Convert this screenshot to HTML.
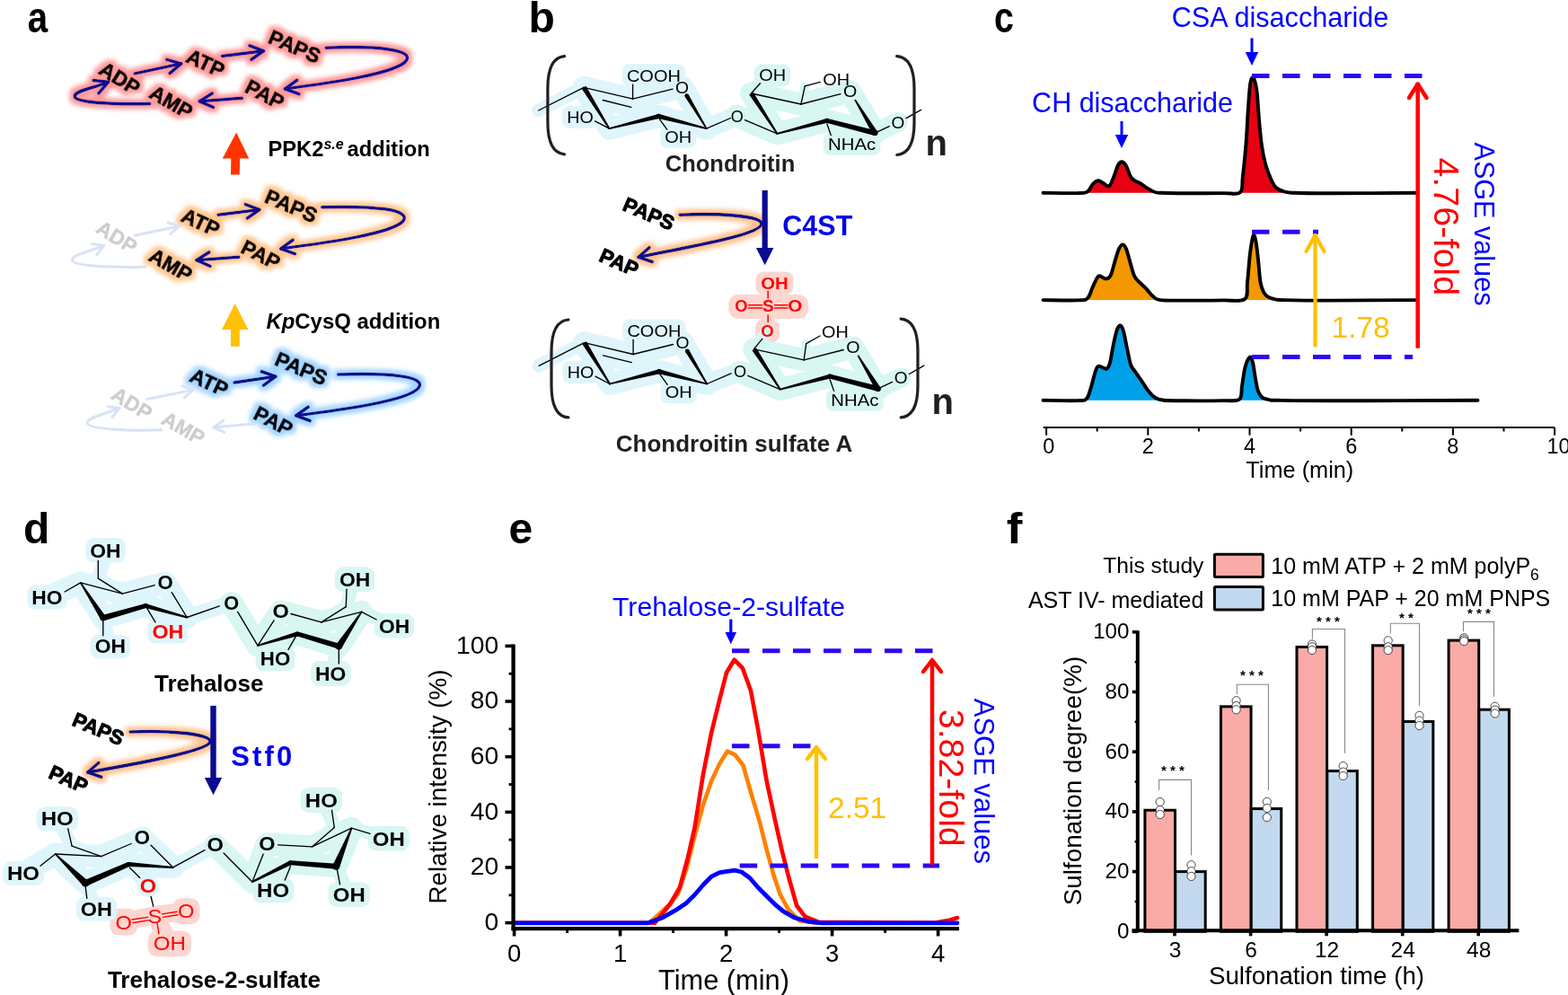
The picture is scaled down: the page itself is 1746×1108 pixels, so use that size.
<!DOCTYPE html>
<html><head><meta charset="utf-8"><title>Figure</title>
<style>html,body{margin:0;padding:0;background:#fff;}svg{display:block;}text{font-family:"Liberation Sans",Arial,sans-serif;}</style>
</head><body>
<svg width="1746" height="1108" viewBox="0 0 1746 1108">
<rect width="1746" height="1108" fill="#fff"/>
<defs><filter id="gR" x="-30%" y="-30%" width="160%" height="160%"><feMorphology in="SourceAlpha" operator="dilate" radius="3.6" result="d"/><feGaussianBlur in="d" stdDeviation="2.6" result="b"/><feFlood flood-color="#ff9999"/><feComposite in2="b" operator="in" result="g"/><feMerge><feMergeNode in="g"/><feMergeNode in="SourceGraphic"/></feMerge></filter><filter id="gO" x="-30%" y="-30%" width="160%" height="160%"><feMorphology in="SourceAlpha" operator="dilate" radius="3.6" result="d"/><feGaussianBlur in="d" stdDeviation="2.6" result="b"/><feFlood flood-color="#ffc58f"/><feComposite in2="b" operator="in" result="g"/><feMerge><feMergeNode in="g"/><feMergeNode in="SourceGraphic"/></feMerge></filter><filter id="gB" x="-30%" y="-30%" width="160%" height="160%"><feMorphology in="SourceAlpha" operator="dilate" radius="3.6" result="d"/><feGaussianBlur in="d" stdDeviation="2.6" result="b"/><feFlood flood-color="#a3d5ff"/><feComposite in2="b" operator="in" result="g"/><feMerge><feMergeNode in="g"/><feMergeNode in="SourceGraphic"/></feMerge></filter><filter id="gO2" x="-30%" y="-30%" width="160%" height="160%"><feMorphology in="SourceAlpha" operator="dilate" radius="4.2" result="d"/><feGaussianBlur in="d" stdDeviation="2.6" result="b"/><feFlood flood-color="#ffc28c"/><feComposite in2="b" operator="in" result="g"/><feMerge><feMergeNode in="g"/><feMergeNode in="SourceGraphic"/></feMerge></filter></defs>
<text x="30.70" y="36.20" font-size="48" fill="#000" font-weight="bold" textLength="22.4" lengthAdjust="spacingAndGlyphs">a</text>
<g filter="url(#gR)">
<path d="M150.2,81.9 L201.7,70.9" stroke="#11118f" stroke-width="3.5" fill="none" stroke-linejoin="round" stroke-linecap="round"/>
<polyline points="189.07,81.52 201.70,70.90 185.83,66.37" stroke="#11118f" stroke-width="3.6" fill="none" stroke-linejoin="round" stroke-linecap="round"/>
<path d="M247.5,62.4 L293.4,56.7" stroke="#11118f" stroke-width="3.5" fill="none" stroke-linejoin="round" stroke-linecap="round"/>
<polyline points="279.90,66.18 293.40,56.70 277.99,50.81" stroke="#11118f" stroke-width="3.6" fill="none" stroke-linejoin="round" stroke-linecap="round"/>
<path d="M363.2,53.2 C420,51 462,55 452,68 C440,82 370,92 317.4,99" stroke="#11118f" stroke-width="3.5" fill="none" stroke-linejoin="round" stroke-linecap="round"/>
<polyline points="330.73,89.28 317.40,99.00 332.91,104.62" stroke="#11118f" stroke-width="3.6" fill="none" stroke-linejoin="round" stroke-linecap="round"/>
<path d="M269.3,109.3 L222.3,112.8" stroke="#11118f" stroke-width="3.5" fill="none" stroke-linejoin="round" stroke-linecap="round"/>
<polyline points="236.25,103.99 222.30,112.80 237.40,119.44" stroke="#11118f" stroke-width="3.6" fill="none" stroke-linejoin="round" stroke-linecap="round"/>
<path d="M166.7,115.6 C130,116.5 84,114.5 83.2,107.5 C82.8,101.5 99,99.5 120.5,91.3" stroke="#11118f" stroke-width="3.5" fill="none" stroke-linejoin="round" stroke-linecap="round"/>
<polyline points="109.85,103.90 120.50,91.30 104.10,89.52" stroke="#11118f" stroke-width="3.6" fill="none" stroke-linejoin="round" stroke-linecap="round"/>
<text transform="translate(133.50,87.00) rotate(32)" x="0" y="8.16" font-size="22.8" font-weight="bold" text-anchor="middle" fill="#000" stroke="#000" stroke-width="1.0">ADP</text>
<text transform="translate(229.00,70.00) rotate(25)" x="0" y="8.16" font-size="22.8" font-weight="bold" text-anchor="middle" fill="#000" stroke="#000" stroke-width="1.0">ATP</text>
<text transform="translate(328.20,51.50) rotate(23)" x="0" y="8.16" font-size="22.8" font-weight="bold" text-anchor="middle" fill="#000" stroke="#000" stroke-width="1.0">PAPS</text>
<text transform="translate(295.00,104.80) rotate(27)" x="0" y="8.16" font-size="22.8" font-weight="bold" text-anchor="middle" fill="#000" stroke="#000" stroke-width="1.0">PAP</text>
<text transform="translate(190.80,113.40) rotate(30)" x="0" y="8.16" font-size="22.8" font-weight="bold" text-anchor="middle" fill="#000" stroke="#000" stroke-width="1.0">AMP</text>
</g>
<g filter="url(#gO)">
<path d="M243,239.3 L288.8,233.5" stroke="#11118f" stroke-width="3.5" fill="none" stroke-linejoin="round" stroke-linecap="round"/>
<polyline points="275.32,243.02 288.80,233.50 273.37,227.65" stroke="#11118f" stroke-width="3.6" fill="none" stroke-linejoin="round" stroke-linecap="round"/>
<path d="M358.7,230.8 C416,229 458,233 449,246 C437,260 366,270 312.8,277" stroke="#11118f" stroke-width="3.5" fill="none" stroke-linejoin="round" stroke-linecap="round"/>
<polyline points="326.10,267.24 312.80,277.00 328.33,282.57" stroke="#11118f" stroke-width="3.6" fill="none" stroke-linejoin="round" stroke-linecap="round"/>
<path d="M265.9,286.2 L218.9,289.7" stroke="#11118f" stroke-width="3.5" fill="none" stroke-linejoin="round" stroke-linecap="round"/>
<polyline points="232.85,280.89 218.90,289.70 234.00,296.34" stroke="#11118f" stroke-width="3.6" fill="none" stroke-linejoin="round" stroke-linecap="round"/>
<text transform="translate(223.50,247.30) rotate(25)" x="0" y="8.16" font-size="22.8" font-weight="bold" text-anchor="middle" fill="#000" stroke="#000" stroke-width="1.0">ATP</text>
<text transform="translate(324.30,229.00) rotate(23)" x="0" y="8.16" font-size="22.8" font-weight="bold" text-anchor="middle" fill="#000" stroke="#000" stroke-width="1.0">PAPS</text>
<text transform="translate(290.50,283.40) rotate(27)" x="0" y="8.16" font-size="22.8" font-weight="bold" text-anchor="middle" fill="#000" stroke="#000" stroke-width="1.0">PAP</text>
<text transform="translate(190.30,294.80) rotate(30)" x="0" y="8.16" font-size="22.8" font-weight="bold" text-anchor="middle" fill="#000" stroke="#000" stroke-width="1.0">AMP</text>
</g>
<path d="M150.2,262.2 L199.4,251.9" stroke="#d9e2f6" stroke-width="3.0" fill="none" stroke-linejoin="round" stroke-linecap="round"/>
<polyline points="189.71,260.57 199.40,251.90 187.05,247.84" stroke="#d9e2f6" stroke-width="3.0" fill="none" stroke-linejoin="round" stroke-linecap="round"/>
<path d="M161.6,297.2 C125,298 80.5,296.5 80.3,289.5 C80.2,283.5 96,281.5 115.5,273.5" stroke="#d9e2f6" stroke-width="3.0" fill="none" stroke-linejoin="round" stroke-linecap="round"/>
<polyline points="107.55,283.79 115.50,273.50 102.62,271.76" stroke="#d9e2f6" stroke-width="3.0" fill="none" stroke-linejoin="round" stroke-linecap="round"/>
<text transform="translate(130.20,263.90) rotate(32)" x="0" y="8.16" font-size="22.8" font-weight="bold" text-anchor="middle" fill="#cdcdcd" stroke="#cdcdcd" stroke-width="0.4">ADP</text>
<g filter="url(#gB)">
<path d="M261,426.1 L306.8,419.3" stroke="#11118f" stroke-width="3.5" fill="none" stroke-linejoin="round" stroke-linecap="round"/>
<polyline points="293.53,429.10 306.80,419.30 291.25,413.78" stroke="#11118f" stroke-width="3.6" fill="none" stroke-linejoin="round" stroke-linecap="round"/>
<path d="M376.7,417 C433,415 476,419 466,432 C455,446 384,456 329.7,462.8" stroke="#11118f" stroke-width="3.5" fill="none" stroke-linejoin="round" stroke-linecap="round"/>
<polyline points="343.12,453.20 329.70,462.80 345.16,468.56" stroke="#11118f" stroke-width="3.6" fill="none" stroke-linejoin="round" stroke-linecap="round"/>
<text transform="translate(233.00,425.60) rotate(25)" x="0" y="8.16" font-size="22.8" font-weight="bold" text-anchor="middle" fill="#000" stroke="#000" stroke-width="1.0">ATP</text>
<text transform="translate(335.50,410.10) rotate(23)" x="0" y="8.16" font-size="22.8" font-weight="bold" text-anchor="middle" fill="#000" stroke="#000" stroke-width="1.0">PAPS</text>
<text transform="translate(304.50,468.50) rotate(27)" x="0" y="8.16" font-size="22.8" font-weight="bold" text-anchor="middle" fill="#000" stroke="#000" stroke-width="1.0">PAP</text>
</g>
<path d="M163.6,444.5 L215.2,434.1" stroke="#d9e2f6" stroke-width="3.0" fill="none" stroke-linejoin="round" stroke-linecap="round"/>
<polyline points="205.45,442.70 215.20,434.10 202.88,429.95" stroke="#d9e2f6" stroke-width="3.0" fill="none" stroke-linejoin="round" stroke-linecap="round"/>
<path d="M282.7,472 L238,475.8" stroke="#d9e2f6" stroke-width="3.0" fill="none" stroke-linejoin="round" stroke-linecap="round"/>
<polyline points="248.67,468.37 238.00,475.80 249.77,481.32" stroke="#d9e2f6" stroke-width="3.0" fill="none" stroke-linejoin="round" stroke-linecap="round"/>
<path d="M179.7,478.8 C143,480 97.5,478 97.2,471 C97,465 113,462.5 133,454.5" stroke="#d9e2f6" stroke-width="3.0" fill="none" stroke-linejoin="round" stroke-linecap="round"/>
<polyline points="124.96,464.72 133.00,454.50 120.13,452.65" stroke="#d9e2f6" stroke-width="3.0" fill="none" stroke-linejoin="round" stroke-linecap="round"/>
<text transform="translate(147.00,449.00) rotate(32)" x="0" y="8.16" font-size="22.8" font-weight="bold" text-anchor="middle" fill="#cdcdcd" stroke="#cdcdcd" stroke-width="0.4">ADP</text>
<text transform="translate(204.30,476.50) rotate(30)" x="0" y="8.16" font-size="22.8" font-weight="bold" text-anchor="middle" fill="#cdcdcd" stroke="#cdcdcd" stroke-width="0.4">AMP</text>
<polygon points="263.20,147.40 277.20,176.40 267.10,176.40 266.80,194.50 257.00,194.50 257.30,176.40 247.80,176.40" fill="#ff3300"/>
<polygon points="261.70,338.00 276.40,367.10 266.80,367.10 266.80,385.70 257.00,385.70 257.00,367.10 247.00,367.10" fill="#ffc000"/>
<text x="298.5" y="173.8" font-size="23.7" font-weight="bold">PPK2<tspan font-size="16" font-style="italic" dy="-7.5">s.e</tspan><tspan x="386.6" dy="7.5" font-size="23.7">addition</tspan></text>
<text x="296.5" y="365.9" font-size="23.9" font-weight="bold"><tspan font-style="italic">Kp</tspan>CysQ addition</text>
<text x="588.50" y="35.50" font-size="48" fill="#000" font-weight="bold">b</text>
<polyline points="650.10,97.30 704.60,110.20 759.50,96.90 786.70,143.20 733.50,129.40 678.50,143.20 650.10,97.30" stroke="#dff5fc" stroke-width="25" fill="none" stroke-linejoin="round" stroke-linecap="round"/>
<polyline points="599.60,123.00 650.10,97.30" stroke="#dff5fc" stroke-width="15" fill="none" stroke-linejoin="round" stroke-linecap="round"/>
<polyline points="671.20,111.50 702.80,119.30" stroke="#dff5fc" stroke-width="22" fill="none" stroke-linejoin="round" stroke-linecap="round"/>
<polyline points="786.70,143.20 820.70,129.20" stroke="#dff5fc" stroke-width="22" fill="none" stroke-linejoin="round" stroke-linecap="round"/>
<rect x="692.70" y="71.10" width="70.40" height="25.50" fill="#dff5fc" stroke="none" stroke-width="0" rx="8"/>
<rect x="625.90" y="117.70" width="40.20" height="25.10" fill="#dff5fc" stroke="none" stroke-width="0" rx="8"/>
<rect x="735.00" y="140.40" width="40.40" height="24.40" fill="#dff5fc" stroke="none" stroke-width="0" rx="8"/>
<polyline points="820.70,129.20 865.40,148.80 836.50,104.00 891.90,116.00 946.70,102.10 974.40,148.10 920.90,134.30 865.40,148.80" stroke="#d8f6f2" stroke-width="25" fill="none" stroke-linejoin="round" stroke-linecap="round"/>
<polyline points="974.40,148.10 999.90,135.80" stroke="#d8f6f2" stroke-width="22" fill="none" stroke-linejoin="round" stroke-linecap="round"/>
<polyline points="891.90,116.00 920.90,134.30" stroke="#d8f6f2" stroke-width="20" fill="none" stroke-linejoin="round" stroke-linecap="round"/>
<polyline points="704.60,110.20 733.50,129.40" stroke="#dff5fc" stroke-width="16" fill="none" stroke-linejoin="round" stroke-linecap="round"/>
<circle cx="820.70" cy="129.20" r="10.5" fill="#d8f6f2"/>
<circle cx="999.90" cy="135.80" r="10.5" fill="#d8f6f2"/>
<rect x="916.80" y="148.40" width="63.60" height="24.60" fill="#d8f6f2" stroke="none" stroke-width="0" rx="8"/>
<rect x="839.90" y="71.60" width="40.40" height="24.60" fill="#d8f6f2" stroke="none" stroke-width="0" rx="8"/>
<polyline points="836.50,104.00 846.50,92.70" stroke="#d8f6f2" stroke-width="14" fill="none" stroke-linejoin="round" stroke-linecap="round"/>
<polyline points="891.90,116.00 896.30,95.80" stroke="#d8f6f2" stroke-width="10" fill="none" stroke-linejoin="round" stroke-linecap="round"/>
<line x1="599.60" y1="123.00" x2="650.10" y2="97.30" stroke="#000" stroke-width="1.35" stroke-linecap="round"/>
<line x1="650.10" y1="97.30" x2="704.60" y2="110.20" stroke="#000" stroke-width="1.35" stroke-linecap="round"/>
<line x1="704.60" y1="110.20" x2="749.10" y2="99.20" stroke="#000" stroke-width="1.35" stroke-linecap="round"/>
<line x1="704.60" y1="110.20" x2="704.60" y2="94.10" stroke="#000" stroke-width="1.35" stroke-linecap="round"/>
<line x1="671.20" y1="111.50" x2="702.80" y2="119.30" stroke="#000" stroke-width="1.35" stroke-linecap="round"/>
<polygon points="762.73,107.68 786.01,143.61 787.39,142.79 766.67,105.32" fill="#000"/>
<circle cx="764.70" cy="106.50" r="2.30" fill="#000"/>
<circle cx="786.70" cy="143.20" r="0.80" fill="#000"/>
<polygon points="786.93,142.33 734.15,126.88 732.85,131.92 786.47,144.07" fill="#000"/>
<circle cx="786.70" cy="143.20" r="0.90" fill="#000"/>
<circle cx="733.50" cy="129.40" r="2.60" fill="#000"/>
<polygon points="732.87,126.88 678.28,142.33 678.72,144.07 734.13,131.92" fill="#000"/>
<circle cx="733.50" cy="129.40" r="2.60" fill="#000"/>
<circle cx="678.50" cy="143.20" r="0.90" fill="#000"/>
<polygon points="647.72,98.77 677.73,143.67 679.27,142.73 652.48,95.83" fill="#000"/>
<circle cx="678.50" cy="143.20" r="0.90" fill="#000"/>
<line x1="678.50" y1="143.20" x2="662.50" y2="134.90" stroke="#000" stroke-width="1.35" stroke-linecap="round"/>
<line x1="734.40" y1="132.60" x2="742.70" y2="144.10" stroke="#000" stroke-width="1.35" stroke-linecap="round"/>
<line x1="786.70" y1="143.20" x2="813.50" y2="131.50" stroke="#000" stroke-width="1.35" stroke-linecap="round"/>
<line x1="829.50" y1="133.60" x2="865.40" y2="148.80" stroke="#000" stroke-width="1.35" stroke-linecap="round"/>
<line x1="836.50" y1="104.00" x2="891.90" y2="116.00" stroke="#000" stroke-width="1.35" stroke-linecap="round"/>
<line x1="891.90" y1="116.00" x2="896.30" y2="95.80" stroke="#000" stroke-width="1.35" stroke-linecap="round"/>
<line x1="896.30" y1="95.80" x2="913.30" y2="91.40" stroke="#000" stroke-width="1.35" stroke-linecap="round"/>
<line x1="891.90" y1="116.00" x2="936.00" y2="104.70" stroke="#000" stroke-width="1.35" stroke-linecap="round"/>
<polygon points="951.63,112.06 971.83,149.65 976.97,146.55 953.17,111.14" fill="#000"/>
<circle cx="952.40" cy="111.60" r="0.90" fill="#000"/>
<circle cx="974.40" cy="148.10" r="3.00" fill="#000"/>
<polygon points="975.15,145.20 921.52,131.88 920.28,136.72 973.65,151.00" fill="#000"/>
<circle cx="974.40" cy="148.10" r="3.00" fill="#000"/>
<circle cx="920.90" cy="134.30" r="2.50" fill="#000"/>
<polygon points="920.27,131.88 865.17,147.93 865.63,149.67 921.53,136.72" fill="#000"/>
<circle cx="920.90" cy="134.30" r="2.50" fill="#000"/>
<circle cx="865.40" cy="148.80" r="0.90" fill="#000"/>
<polygon points="834.23,105.46 864.64,149.29 866.16,148.31 838.77,102.54" fill="#000"/>
<circle cx="865.40" cy="148.80" r="0.90" fill="#000"/>
<line x1="920.90" y1="138.00" x2="925.30" y2="150.60" stroke="#000" stroke-width="1.35" stroke-linecap="round"/>
<line x1="974.40" y1="148.10" x2="990.20" y2="140.60" stroke="#000" stroke-width="1.35" stroke-linecap="round"/>
<line x1="1009.10" y1="131.70" x2="1025.50" y2="122.30" stroke="#000" stroke-width="1.35" stroke-linecap="round"/>
<line x1="836.50" y1="104.00" x2="846.50" y2="92.70" stroke="#000" stroke-width="1.35" stroke-linecap="round"/>
<text x="727.90" y="90.60" font-size="18.5" fill="#000" text-anchor="middle" textLength="59.88" lengthAdjust="spacingAndGlyphs">COOH</text>
<text x="759.55" y="103.70" font-size="18.5" fill="#000" text-anchor="middle" textLength="14.98" lengthAdjust="spacingAndGlyphs">O</text>
<text x="646.00" y="136.80" font-size="18.5" fill="#000" text-anchor="middle" textLength="29.68" lengthAdjust="spacingAndGlyphs">HO</text>
<text x="755.20" y="158.80" font-size="18.5" fill="#000" text-anchor="middle" textLength="29.88" lengthAdjust="spacingAndGlyphs">OH</text>
<text x="820.70" y="135.50" font-size="18.5" fill="#000" text-anchor="middle" textLength="14.08" lengthAdjust="spacingAndGlyphs">O</text>
<text x="860.10" y="90.20" font-size="18.5" fill="#000" text-anchor="middle" textLength="29.88" lengthAdjust="spacingAndGlyphs">OH</text>
<text x="931.30" y="94.60" font-size="18.5" fill="#000" text-anchor="middle" textLength="29.88" lengthAdjust="spacingAndGlyphs">OH</text>
<text x="946.70" y="108.40" font-size="18.5" fill="#000" text-anchor="middle" textLength="15.28" lengthAdjust="spacingAndGlyphs">O</text>
<text x="948.60" y="167.00" font-size="18.5" fill="#000" text-anchor="middle" textLength="53.08" lengthAdjust="spacingAndGlyphs">NHAc</text>
<text x="999.95" y="142.50" font-size="18.5" fill="#000" text-anchor="middle" textLength="14.78" lengthAdjust="spacingAndGlyphs">O</text>
<path d="M628.5,62.6 C615.9,63.6 609.9,76.6 609.9,98.6 L609.9,135.8 C609.9,157.8 615.9,170.8 628.5,171.8" stroke="#231f20" stroke-width="3.2" fill="none" stroke-linejoin="round" stroke-linecap="round"/>
<path d="M998.7,62.7 C1012.0,63.7 1018.0,76.7 1018.0,98.7 L1018.0,136.5 C1018.0,158.5 1012.0,171.5 998.7,172.5" stroke="#231f20" stroke-width="3.2" fill="none" stroke-linejoin="round" stroke-linecap="round"/>
<text x="1030.50" y="172.50" font-size="40" fill="#231f20" font-weight="bold">n</text>
<text x="813.00" y="190.60" font-size="25.5" fill="#231f20" font-weight="bold" text-anchor="middle">Chondroitin</text>
<rect x="841.50" y="302.40" width="42.10" height="25.80" fill="#fcd6cf" stroke="none" stroke-width="0" rx="9"/>
<rect x="811.40" y="327.90" width="88.70" height="27.00" fill="#fcd6cf" stroke="none" stroke-width="0" rx="11"/>
<rect x="841.00" y="355.90" width="26.90" height="26.00" fill="#fcd6cf" stroke="none" stroke-width="0" rx="9"/>
<polyline points="855.20,320.00 855.20,368.00" stroke="#fcd6cf" stroke-width="16" fill="none" stroke-linejoin="round" stroke-linecap="round"/>
<polyline points="650.60,381.60 705.10,394.50 760.00,381.20 787.20,427.50 734.00,413.70 679.00,427.50 650.60,381.60" stroke="#dff5fc" stroke-width="25" fill="none" stroke-linejoin="round" stroke-linecap="round"/>
<polyline points="600.10,407.30 650.60,381.60" stroke="#dff5fc" stroke-width="15" fill="none" stroke-linejoin="round" stroke-linecap="round"/>
<polyline points="671.70,395.80 703.30,403.60" stroke="#dff5fc" stroke-width="22" fill="none" stroke-linejoin="round" stroke-linecap="round"/>
<polyline points="787.20,427.50 824.00,414.00" stroke="#dff5fc" stroke-width="22" fill="none" stroke-linejoin="round" stroke-linecap="round"/>
<rect x="693.20" y="355.40" width="70.40" height="25.50" fill="#dff5fc" stroke="none" stroke-width="0" rx="8"/>
<rect x="626.40" y="402.00" width="40.20" height="25.10" fill="#dff5fc" stroke="none" stroke-width="0" rx="8"/>
<rect x="735.50" y="424.70" width="40.40" height="24.40" fill="#dff5fc" stroke="none" stroke-width="0" rx="8"/>
<polyline points="824.00,414.00 868.70,433.60 839.80,388.80 895.20,400.80 950.00,386.90 977.70,432.90 924.20,419.10 868.70,433.60" stroke="#d8f6f2" stroke-width="25" fill="none" stroke-linejoin="round" stroke-linecap="round"/>
<polyline points="977.70,432.90 1003.20,420.60" stroke="#d8f6f2" stroke-width="22" fill="none" stroke-linejoin="round" stroke-linecap="round"/>
<polyline points="895.20,400.80 924.20,419.10" stroke="#d8f6f2" stroke-width="20" fill="none" stroke-linejoin="round" stroke-linecap="round"/>
<polyline points="705.10,394.50 734.00,413.70" stroke="#dff5fc" stroke-width="16" fill="none" stroke-linejoin="round" stroke-linecap="round"/>
<circle cx="824.00" cy="414.00" r="10.5" fill="#d8f6f2"/>
<circle cx="1003.20" cy="420.60" r="10.5" fill="#d8f6f2"/>
<rect x="920.10" y="433.20" width="63.60" height="24.60" fill="#d8f6f2" stroke="none" stroke-width="0" rx="8"/>
<polyline points="839.80,388.80 854.50,368.90" stroke="#d8f6f2" stroke-width="14" fill="none" stroke-linejoin="round" stroke-linecap="round"/>
<polyline points="895.20,400.80 897.70,382.60" stroke="#d8f6f2" stroke-width="10" fill="none" stroke-linejoin="round" stroke-linecap="round"/>
<line x1="600.10" y1="407.30" x2="650.60" y2="381.60" stroke="#000" stroke-width="1.35" stroke-linecap="round"/>
<line x1="650.60" y1="381.60" x2="705.10" y2="394.50" stroke="#000" stroke-width="1.35" stroke-linecap="round"/>
<line x1="705.10" y1="394.50" x2="749.60" y2="383.50" stroke="#000" stroke-width="1.35" stroke-linecap="round"/>
<line x1="705.10" y1="394.50" x2="705.10" y2="378.40" stroke="#000" stroke-width="1.35" stroke-linecap="round"/>
<line x1="671.70" y1="395.80" x2="703.30" y2="403.60" stroke="#000" stroke-width="1.35" stroke-linecap="round"/>
<polygon points="763.23,391.98 786.51,427.91 787.89,427.09 767.17,389.62" fill="#000"/>
<circle cx="765.20" cy="390.80" r="2.30" fill="#000"/>
<circle cx="787.20" cy="427.50" r="0.80" fill="#000"/>
<polygon points="787.43,426.63 734.65,411.18 733.35,416.22 786.97,428.37" fill="#000"/>
<circle cx="787.20" cy="427.50" r="0.90" fill="#000"/>
<circle cx="734.00" cy="413.70" r="2.60" fill="#000"/>
<polygon points="733.37,411.18 678.78,426.63 679.22,428.37 734.63,416.22" fill="#000"/>
<circle cx="734.00" cy="413.70" r="2.60" fill="#000"/>
<circle cx="679.00" cy="427.50" r="0.90" fill="#000"/>
<polygon points="648.22,383.07 678.23,427.97 679.77,427.03 652.98,380.13" fill="#000"/>
<circle cx="679.00" cy="427.50" r="0.90" fill="#000"/>
<line x1="679.00" y1="427.50" x2="663.00" y2="419.20" stroke="#000" stroke-width="1.35" stroke-linecap="round"/>
<line x1="734.90" y1="416.90" x2="743.20" y2="428.40" stroke="#000" stroke-width="1.35" stroke-linecap="round"/>
<line x1="787.20" y1="427.50" x2="814.00" y2="415.80" stroke="#000" stroke-width="1.35" stroke-linecap="round"/>
<line x1="832.80" y1="418.40" x2="868.70" y2="433.60" stroke="#000" stroke-width="1.35" stroke-linecap="round"/>
<line x1="839.80" y1="388.80" x2="895.20" y2="400.80" stroke="#000" stroke-width="1.35" stroke-linecap="round"/>
<line x1="895.20" y1="400.80" x2="897.70" y2="382.60" stroke="#000" stroke-width="1.35" stroke-linecap="round"/>
<line x1="897.70" y1="382.60" x2="913.10" y2="374.00" stroke="#000" stroke-width="1.35" stroke-linecap="round"/>
<line x1="895.20" y1="400.80" x2="939.30" y2="389.50" stroke="#000" stroke-width="1.35" stroke-linecap="round"/>
<polygon points="954.93,396.86 975.13,434.45 980.27,431.35 956.47,395.94" fill="#000"/>
<circle cx="955.70" cy="396.40" r="0.90" fill="#000"/>
<circle cx="977.70" cy="432.90" r="3.00" fill="#000"/>
<polygon points="978.45,430.00 924.82,416.68 923.58,421.52 976.95,435.80" fill="#000"/>
<circle cx="977.70" cy="432.90" r="3.00" fill="#000"/>
<circle cx="924.20" cy="419.10" r="2.50" fill="#000"/>
<polygon points="923.57,416.68 868.47,432.73 868.93,434.47 924.83,421.52" fill="#000"/>
<circle cx="924.20" cy="419.10" r="2.50" fill="#000"/>
<circle cx="868.70" cy="433.60" r="0.90" fill="#000"/>
<polygon points="837.53,390.26 867.94,434.09 869.46,433.11 842.07,387.34" fill="#000"/>
<circle cx="868.70" cy="433.60" r="0.90" fill="#000"/>
<line x1="924.20" y1="422.80" x2="928.60" y2="435.40" stroke="#000" stroke-width="1.35" stroke-linecap="round"/>
<line x1="977.70" y1="432.90" x2="993.50" y2="425.40" stroke="#000" stroke-width="1.35" stroke-linecap="round"/>
<line x1="1012.40" y1="416.50" x2="1028.80" y2="407.10" stroke="#000" stroke-width="1.35" stroke-linecap="round"/>
<text x="728.40" y="374.90" font-size="18.5" fill="#000" text-anchor="middle" textLength="59.88" lengthAdjust="spacingAndGlyphs">COOH</text>
<text x="760.05" y="388.00" font-size="18.5" fill="#000" text-anchor="middle" textLength="14.98" lengthAdjust="spacingAndGlyphs">O</text>
<text x="646.50" y="421.10" font-size="18.5" fill="#000" text-anchor="middle" textLength="29.68" lengthAdjust="spacingAndGlyphs">HO</text>
<text x="755.70" y="443.10" font-size="18.5" fill="#000" text-anchor="middle" textLength="29.88" lengthAdjust="spacingAndGlyphs">OH</text>
<text x="824.00" y="420.30" font-size="18.5" fill="#000" text-anchor="middle" textLength="14.08" lengthAdjust="spacingAndGlyphs">O</text>
<text x="929.85" y="375.70" font-size="18.5" fill="#000" text-anchor="middle" textLength="29.78" lengthAdjust="spacingAndGlyphs">OH</text>
<text x="950.00" y="393.20" font-size="18.5" fill="#000" text-anchor="middle" textLength="15.28" lengthAdjust="spacingAndGlyphs">O</text>
<text x="951.90" y="451.80" font-size="18.5" fill="#000" text-anchor="middle" textLength="53.08" lengthAdjust="spacingAndGlyphs">NHAc</text>
<text x="1003.25" y="427.30" font-size="18.5" fill="#000" text-anchor="middle" textLength="14.78" lengthAdjust="spacingAndGlyphs">O</text>
<line x1="839.40" y1="388.60" x2="848.90" y2="377.40" stroke="#000" stroke-width="1.35" stroke-linecap="round"/>
<text x="862.55" y="321.70" font-size="18.5" fill="#ff0000" text-anchor="middle" font-weight="bold" textLength="30.58" lengthAdjust="spacingAndGlyphs">OH</text>
<text x="855.30" y="347.40" font-size="18.5" fill="#ff0000" text-anchor="middle" font-weight="bold" textLength="12.68" lengthAdjust="spacingAndGlyphs">S</text>
<text x="825.30" y="347.40" font-size="18.5" fill="#ff0000" text-anchor="middle" font-weight="bold" textLength="14.28" lengthAdjust="spacingAndGlyphs">O</text>
<text x="885.30" y="347.40" font-size="18.5" fill="#ff0000" text-anchor="middle" font-weight="bold" textLength="16.08" lengthAdjust="spacingAndGlyphs">O</text>
<text x="854.45" y="374.90" font-size="18.5" fill="#ff0000" text-anchor="middle" font-weight="bold" textLength="14.38" lengthAdjust="spacingAndGlyphs">O</text>
<line x1="855.20" y1="324.30" x2="855.20" y2="332.00" stroke="#ff0000" stroke-width="1.5" stroke-linecap="round"/>
<line x1="855.20" y1="350.90" x2="855.20" y2="358.60" stroke="#ff0000" stroke-width="1.5" stroke-linecap="round"/>
<line x1="833.40" y1="339.70" x2="848.90" y2="339.70" stroke="#ff0000" stroke-width="1.5" stroke-linecap="round"/>
<line x1="862.50" y1="339.70" x2="877.00" y2="339.70" stroke="#ff0000" stroke-width="1.5" stroke-linecap="round"/>
<line x1="833.40" y1="343.10" x2="848.90" y2="343.10" stroke="#ff0000" stroke-width="1.5" stroke-linecap="round"/>
<line x1="862.50" y1="343.10" x2="877.00" y2="343.10" stroke="#ff0000" stroke-width="1.5" stroke-linecap="round"/>
<path d="M632.9,356 C620,357 614,370 614,392 L614,428.9 C614,450.9 620,463.9 632.9,464.9" stroke="#231f20" stroke-width="3.2" fill="none" stroke-linejoin="round" stroke-linecap="round"/>
<path d="M1003.2,355.1 C1016,356.1 1022,369.1 1022,391.1 L1022,428.9 C1022,450.9 1016,463.9 1003.2,464.9" stroke="#231f20" stroke-width="3.2" fill="none" stroke-linejoin="round" stroke-linecap="round"/>
<text x="1037.50" y="460.60" font-size="40" fill="#231f20" font-weight="bold">n</text>
<text x="817.50" y="503.20" font-size="26" fill="#231f20" font-weight="bold" text-anchor="middle">Chondroitin sulfate A</text>
<text x="910.30" y="261.60" font-size="32" fill="#0000ee" font-weight="bold" text-anchor="middle" textLength="78" lengthAdjust="spacingAndGlyphs">C4ST</text>
<g filter="url(#gO2)">
<path d="M757.2,239.2 C800,237.5 848,240 848,249 C848,262 760,276 711,286.4" stroke="#0f0f8a" stroke-width="3.6" fill="none" stroke-linejoin="round" stroke-linecap="round"/>
<polyline points="722.95,275.76 711.00,286.40 726.19,291.42" stroke="#0f0f8a" stroke-width="3.6" fill="none" stroke-linejoin="round" stroke-linecap="round"/>
</g>
<rect x="848.6" y="211.9" width="6.2" height="66" fill="#0a0a94"/>
<polygon points="842.00,275.90 861.40,275.90 851.70,295.30" fill="#0a0a94"/>
<text transform="translate(722.50,237.80) rotate(23)" x="0" y="8.05" font-size="22.5" font-weight="bold" text-anchor="middle" fill="#000" stroke="#000" stroke-width="1.0">PAPS</text>
<text transform="translate(689.50,292.00) rotate(24)" x="0" y="8.05" font-size="22.5" font-weight="bold" text-anchor="middle" fill="#000" stroke="#000" stroke-width="1.0">PAP</text>
<text x="1107.10" y="35.80" font-size="48" fill="#000" font-weight="bold" textLength="21.9" lengthAdjust="spacingAndGlyphs">c</text>
<path d="M1208.00,214.80 C1208.50,214.55 1209.50,214.97 1211.00,213.30 C1212.50,211.63 1215.00,206.82 1217.00,204.80 C1219.00,202.78 1221.00,201.28 1223.00,201.20 C1225.00,201.12 1226.95,203.33 1229.00,204.30 C1231.05,205.27 1233.30,208.58 1235.30,207.00 C1237.30,205.42 1239.38,198.67 1241.00,194.80 C1242.62,190.93 1243.60,186.22 1245.00,183.80 C1246.40,181.38 1247.90,180.13 1249.40,180.30 C1250.90,180.47 1252.40,182.05 1254.00,184.80 C1255.60,187.55 1257.50,194.13 1259.00,196.80 C1260.50,199.47 1261.17,199.55 1263.00,200.80 C1264.83,202.05 1267.50,202.80 1270.00,204.30 C1272.50,205.80 1275.33,208.18 1278.00,209.80 C1280.67,211.42 1283.33,213.17 1286.00,214.00 C1288.67,214.83 1292.33,214.67 1294.00,214.80 C1295.67,214.93 1295.67,214.80 1296.00,214.80 Z" fill="#e60012"/>
<path d="M1377.90,214.80 C1378.40,214.72 1379.92,217.23 1380.90,214.30 C1381.88,211.37 1382.72,206.08 1383.80,197.20 C1384.88,188.32 1386.43,173.03 1387.40,161.00 C1388.37,148.97 1388.87,135.82 1389.60,125.00 C1390.33,114.18 1391.07,102.47 1391.80,96.10 C1392.53,89.73 1393.17,88.00 1394.00,86.80 C1394.83,85.60 1395.85,86.15 1396.80,88.90 C1397.75,91.65 1398.85,96.08 1399.70,103.30 C1400.55,110.52 1401.05,122.58 1401.90,132.20 C1402.75,141.82 1403.60,152.58 1404.80,161.00 C1406.00,169.42 1407.42,176.43 1409.10,182.70 C1410.78,188.97 1412.98,194.27 1414.90,198.60 C1416.82,202.93 1418.20,206.28 1420.60,208.70 C1423.00,211.12 1425.73,212.08 1429.30,213.10 C1432.87,214.12 1439.55,214.52 1442.00,214.80 C1444.45,215.08 1443.67,214.80 1444.00,214.80 Z" fill="#e60012"/>
<path d="M1161.50,214.80 C1167.92,214.85 1191.75,215.35 1200.00,215.10 C1208.25,214.85 1208.17,215.02 1211.00,213.30 C1213.83,211.58 1215.00,206.82 1217.00,204.80 C1219.00,202.78 1221.00,201.28 1223.00,201.20 C1225.00,201.12 1226.95,203.33 1229.00,204.30 C1231.05,205.27 1233.30,208.58 1235.30,207.00 C1237.30,205.42 1239.38,198.67 1241.00,194.80 C1242.62,190.93 1243.60,186.22 1245.00,183.80 C1246.40,181.38 1247.90,180.13 1249.40,180.30 C1250.90,180.47 1252.40,182.05 1254.00,184.80 C1255.60,187.55 1257.50,194.13 1259.00,196.80 C1260.50,199.47 1261.17,199.55 1263.00,200.80 C1264.83,202.05 1267.50,202.80 1270.00,204.30 C1272.50,205.80 1275.33,208.18 1278.00,209.80 C1280.67,211.42 1283.33,213.17 1286.00,214.00 C1288.67,214.83 1288.33,214.58 1294.00,214.80 C1299.67,215.02 1308.67,215.25 1320.00,215.30 C1331.33,215.35 1351.85,215.27 1362.00,215.10 C1372.15,214.93 1377.27,217.28 1380.90,214.30 C1384.53,211.32 1382.72,206.08 1383.80,197.20 C1384.88,188.32 1386.43,173.03 1387.40,161.00 C1388.37,148.97 1388.87,135.82 1389.60,125.00 C1390.33,114.18 1391.07,102.47 1391.80,96.10 C1392.53,89.73 1393.17,88.00 1394.00,86.80 C1394.83,85.60 1395.85,86.15 1396.80,88.90 C1397.75,91.65 1398.85,96.08 1399.70,103.30 C1400.55,110.52 1401.05,122.58 1401.90,132.20 C1402.75,141.82 1403.60,152.58 1404.80,161.00 C1406.00,169.42 1407.42,176.43 1409.10,182.70 C1410.78,188.97 1412.98,194.27 1414.90,198.60 C1416.82,202.93 1418.20,206.28 1420.60,208.70 C1423.00,211.12 1425.73,212.08 1429.30,213.10 C1432.87,214.12 1433.55,214.43 1442.00,214.80 C1450.45,215.17 1457.50,215.30 1480.00,215.30 C1502.50,215.30 1560.83,214.88 1577.00,214.80" fill="none" stroke="#000" stroke-width="3.9" stroke-linejoin="round" stroke-linecap="round"/>
<path d="M1208.00,334.10 C1208.50,333.77 1209.50,334.60 1211.00,332.10 C1212.50,329.60 1215.00,323.18 1217.00,319.10 C1219.00,315.02 1221.17,309.27 1223.00,307.60 C1224.83,305.93 1226.40,308.65 1228.00,309.10 C1229.60,309.55 1231.10,310.80 1232.60,310.30 C1234.10,309.80 1235.43,309.63 1237.00,306.10 C1238.57,302.57 1240.50,293.93 1242.00,289.10 C1243.50,284.27 1244.63,279.88 1246.00,277.10 C1247.37,274.32 1248.87,272.40 1250.20,272.40 C1251.53,272.40 1252.53,273.48 1254.00,277.10 C1255.47,280.72 1257.50,289.10 1259.00,294.10 C1260.50,299.10 1261.50,303.85 1263.00,307.10 C1264.50,310.35 1265.83,311.27 1268.00,313.60 C1270.17,315.93 1273.33,318.35 1276.00,321.10 C1278.67,323.85 1281.33,327.93 1284.00,330.10 C1286.67,332.27 1290.33,333.43 1292.00,334.10 C1293.67,334.77 1293.67,334.10 1294.00,334.10 Z" fill="#f39800"/>
<path d="M1383.00,334.10 C1383.50,333.93 1385.00,336.43 1386.00,333.10 C1387.00,329.77 1388.00,322.60 1389.00,314.10 C1390.00,305.60 1390.90,290.72 1392.00,282.10 C1393.10,273.48 1394.52,264.57 1395.60,262.40 C1396.68,260.23 1397.60,264.65 1398.50,269.10 C1399.40,273.55 1400.17,281.60 1401.00,289.10 C1401.83,296.60 1402.50,308.10 1403.50,314.10 C1404.50,320.10 1405.58,322.35 1407.00,325.10 C1408.42,327.85 1409.83,329.23 1412.00,330.60 C1414.17,331.97 1417.00,332.72 1420.00,333.30 C1423.00,333.88 1428.00,333.97 1430.00,334.10 C1432.00,334.23 1431.67,334.10 1432.00,334.10 Z" fill="#f39800"/>
<path d="M1161.50,334.10 C1167.92,334.15 1191.75,334.73 1200.00,334.40 C1208.25,334.07 1208.17,334.65 1211.00,332.10 C1213.83,329.55 1215.00,323.18 1217.00,319.10 C1219.00,315.02 1221.17,309.27 1223.00,307.60 C1224.83,305.93 1226.40,308.65 1228.00,309.10 C1229.60,309.55 1231.10,310.80 1232.60,310.30 C1234.10,309.80 1235.43,309.63 1237.00,306.10 C1238.57,302.57 1240.50,293.93 1242.00,289.10 C1243.50,284.27 1244.63,279.88 1246.00,277.10 C1247.37,274.32 1248.87,272.40 1250.20,272.40 C1251.53,272.40 1252.53,273.48 1254.00,277.10 C1255.47,280.72 1257.50,289.10 1259.00,294.10 C1260.50,299.10 1261.50,303.85 1263.00,307.10 C1264.50,310.35 1265.83,311.27 1268.00,313.60 C1270.17,315.93 1273.33,318.35 1276.00,321.10 C1278.67,323.85 1281.33,327.93 1284.00,330.10 C1286.67,332.27 1286.00,333.35 1292.00,334.10 C1298.00,334.85 1308.33,334.55 1320.00,334.60 C1331.67,334.65 1351.00,334.65 1362.00,334.40 C1373.00,334.15 1381.50,336.48 1386.00,333.10 C1390.50,329.72 1388.00,322.60 1389.00,314.10 C1390.00,305.60 1390.90,290.72 1392.00,282.10 C1393.10,273.48 1394.52,264.57 1395.60,262.40 C1396.68,260.23 1397.60,264.65 1398.50,269.10 C1399.40,273.55 1400.17,281.60 1401.00,289.10 C1401.83,296.60 1402.50,308.10 1403.50,314.10 C1404.50,320.10 1405.58,322.35 1407.00,325.10 C1408.42,327.85 1409.83,329.23 1412.00,330.60 C1414.17,331.97 1417.00,332.72 1420.00,333.30 C1423.00,333.88 1420.00,333.88 1430.00,334.10 C1440.00,334.32 1455.50,334.60 1480.00,334.60 C1504.50,334.60 1560.83,334.18 1577.00,334.10" fill="none" stroke="#000" stroke-width="3.9" stroke-linejoin="round" stroke-linecap="round"/>
<path d="M1207.00,445.80 C1207.50,445.47 1208.67,446.30 1210.00,443.80 C1211.33,441.30 1213.33,435.97 1215.00,430.80 C1216.67,425.63 1218.67,416.63 1220.00,412.80 C1221.33,408.97 1221.67,408.38 1223.00,407.80 C1224.33,407.22 1226.40,408.85 1228.00,409.30 C1229.60,409.75 1231.27,411.42 1232.60,410.50 C1233.93,409.58 1234.77,408.42 1236.00,403.80 C1237.23,399.18 1238.67,388.97 1240.00,382.80 C1241.33,376.63 1242.75,370.18 1244.00,366.80 C1245.25,363.42 1246.33,362.17 1247.50,362.50 C1248.67,362.83 1249.75,364.58 1251.00,368.80 C1252.25,373.02 1253.67,381.63 1255.00,387.80 C1256.33,393.97 1257.50,401.47 1259.00,405.80 C1260.50,410.13 1262.00,410.80 1264.00,413.80 C1266.00,416.80 1268.50,420.13 1271.00,423.80 C1273.50,427.47 1276.33,432.55 1279.00,435.80 C1281.67,439.05 1284.17,441.63 1287.00,443.30 C1289.83,444.97 1294.17,445.38 1296.00,445.80 C1297.83,446.22 1297.67,445.80 1298.00,445.80 Z" fill="#00a0e9"/>
<path d="M1377.00,445.80 C1377.50,445.63 1379.00,447.47 1380.00,444.80 C1381.00,442.13 1381.92,435.80 1383.00,429.80 C1384.08,423.80 1385.03,414.15 1386.50,408.80 C1387.97,403.45 1390.38,398.53 1391.80,397.70 C1393.22,396.87 1393.97,399.78 1395.00,403.80 C1396.03,407.82 1397.00,416.47 1398.00,421.80 C1399.00,427.13 1399.67,432.30 1401.00,435.80 C1402.33,439.30 1403.83,441.22 1406.00,442.80 C1408.17,444.38 1411.33,444.80 1414.00,445.30 C1416.67,445.80 1420.33,445.72 1422.00,445.80 C1423.67,445.88 1423.67,445.80 1424.00,445.80 Z" fill="#00a0e9"/>
<path d="M1161.50,445.80 C1167.92,445.85 1191.92,446.43 1200.00,446.10 C1208.08,445.77 1207.50,446.35 1210.00,443.80 C1212.50,441.25 1213.33,435.97 1215.00,430.80 C1216.67,425.63 1218.67,416.63 1220.00,412.80 C1221.33,408.97 1221.67,408.38 1223.00,407.80 C1224.33,407.22 1226.40,408.85 1228.00,409.30 C1229.60,409.75 1231.27,411.42 1232.60,410.50 C1233.93,409.58 1234.77,408.42 1236.00,403.80 C1237.23,399.18 1238.67,388.97 1240.00,382.80 C1241.33,376.63 1242.75,370.18 1244.00,366.80 C1245.25,363.42 1246.33,362.17 1247.50,362.50 C1248.67,362.83 1249.75,364.58 1251.00,368.80 C1252.25,373.02 1253.67,381.63 1255.00,387.80 C1256.33,393.97 1257.50,401.47 1259.00,405.80 C1260.50,410.13 1262.00,410.80 1264.00,413.80 C1266.00,416.80 1268.50,420.13 1271.00,423.80 C1273.50,427.47 1276.33,432.55 1279.00,435.80 C1281.67,439.05 1284.17,441.63 1287.00,443.30 C1289.83,444.97 1290.50,445.30 1296.00,445.80 C1301.50,446.30 1309.00,446.25 1320.00,446.30 C1331.00,446.35 1352.00,446.35 1362.00,446.10 C1372.00,445.85 1376.50,447.52 1380.00,444.80 C1383.50,442.08 1381.92,435.80 1383.00,429.80 C1384.08,423.80 1385.03,414.15 1386.50,408.80 C1387.97,403.45 1390.38,398.53 1391.80,397.70 C1393.22,396.87 1393.97,399.78 1395.00,403.80 C1396.03,407.82 1397.00,416.47 1398.00,421.80 C1399.00,427.13 1399.67,432.30 1401.00,435.80 C1402.33,439.30 1403.83,441.22 1406.00,442.80 C1408.17,444.38 1411.33,444.80 1414.00,445.30 C1416.67,445.80 1411.00,445.63 1422.00,445.80 C1433.00,445.97 1442.75,446.30 1480.00,446.30 C1517.25,446.30 1617.92,445.88 1645.50,445.80" fill="none" stroke="#000" stroke-width="3.9" stroke-linejoin="round" stroke-linecap="round"/>
<line x1="1161.70" y1="476.00" x2="1731.00" y2="476.00" stroke="#000" stroke-width="2" stroke-linecap="butt"/>
<line x1="1165.10" y1="476.00" x2="1165.10" y2="484.70" stroke="#000" stroke-width="2" stroke-linecap="butt"/>
<text x="1167.90" y="505.20" font-size="23.5" fill="#000" text-anchor="middle">0</text>
<line x1="1221.70" y1="476.00" x2="1221.70" y2="480.50" stroke="#000" stroke-width="2" stroke-linecap="butt"/>
<line x1="1278.30" y1="476.00" x2="1278.30" y2="484.70" stroke="#000" stroke-width="2" stroke-linecap="butt"/>
<text x="1278.30" y="505.20" font-size="23.5" fill="#000" text-anchor="middle">2</text>
<line x1="1334.90" y1="476.00" x2="1334.90" y2="480.50" stroke="#000" stroke-width="2" stroke-linecap="butt"/>
<line x1="1391.50" y1="476.00" x2="1391.50" y2="484.70" stroke="#000" stroke-width="2" stroke-linecap="butt"/>
<text x="1391.50" y="505.20" font-size="23.5" fill="#000" text-anchor="middle">4</text>
<line x1="1448.10" y1="476.00" x2="1448.10" y2="480.50" stroke="#000" stroke-width="2" stroke-linecap="butt"/>
<line x1="1504.70" y1="476.00" x2="1504.70" y2="484.70" stroke="#000" stroke-width="2" stroke-linecap="butt"/>
<text x="1504.70" y="505.20" font-size="23.5" fill="#000" text-anchor="middle">6</text>
<line x1="1561.30" y1="476.00" x2="1561.30" y2="480.50" stroke="#000" stroke-width="2" stroke-linecap="butt"/>
<line x1="1617.90" y1="476.00" x2="1617.90" y2="484.70" stroke="#000" stroke-width="2" stroke-linecap="butt"/>
<text x="1617.90" y="505.20" font-size="23.5" fill="#000" text-anchor="middle">8</text>
<line x1="1674.50" y1="476.00" x2="1674.50" y2="480.50" stroke="#000" stroke-width="2" stroke-linecap="butt"/>
<line x1="1731.10" y1="476.00" x2="1731.10" y2="484.70" stroke="#000" stroke-width="2" stroke-linecap="butt"/>
<text x="1722.50" y="505.20" font-size="23.5" fill="#000">10</text>
<text x="1447.30" y="531.50" font-size="25.3" fill="#000" text-anchor="middle">Time (min)</text>
<text x="1425.50" y="29.60" font-size="30.6" fill="#0000ff" text-anchor="middle">CSA disaccharide</text>
<line x1="1394.00" y1="42.50" x2="1394.00" y2="60.00" stroke="#0000ff" stroke-width="3" stroke-linecap="butt"/>
<polygon points="1386.70,58.00 1401.20,58.00 1394.00,73.00" fill="#0000ff"/>
<text x="1261.00" y="125.00" font-size="30.5" fill="#0000ff" text-anchor="middle">CH disaccharide</text>
<line x1="1249.00" y1="135.00" x2="1249.00" y2="152.00" stroke="#0000ff" stroke-width="3" stroke-linecap="butt"/>
<polygon points="1241.80,150.00 1256.20,150.00 1249.00,165.00" fill="#0000ff"/>
<line x1="1394.00" y1="84.40" x2="1586.00" y2="84.40" stroke="#2c08f4" stroke-width="5" stroke-linecap="butt" stroke-dasharray="19.5 14.5"/>
<line x1="1394.00" y1="258.30" x2="1468.00" y2="258.30" stroke="#2c08f4" stroke-width="5" stroke-linecap="butt" stroke-dasharray="19.5 14.5"/>
<line x1="1394.00" y1="397.60" x2="1573.00" y2="397.60" stroke="#2c08f4" stroke-width="5" stroke-linecap="butt" stroke-dasharray="19.5 14.5"/>
<line x1="1578.70" y1="92.00" x2="1578.70" y2="387.70" stroke="#ff0000" stroke-width="4.5" stroke-linecap="butt"/>
<polyline points="1569.00,109.00 1578.70,93.50 1588.50,109.00" stroke="#ff0000" stroke-width="4.5" fill="none" stroke-linejoin="round" stroke-linecap="round"/>
<line x1="1464.50" y1="261.00" x2="1464.50" y2="386.40" stroke="#ffc000" stroke-width="4.2" stroke-linecap="butt"/>
<polyline points="1454.50,280.00 1464.50,262.00 1474.50,280.00" stroke="#ffc000" stroke-width="4.2" fill="none" stroke-linejoin="round" stroke-linecap="round"/>
<text x="1482.50" y="376.30" font-size="33.5" fill="#ffc000">1.78</text>
<text x="0" y="0" transform="translate(1597.00,175.40) rotate(90)" font-size="39.5" fill="#ff0000">4.76-fold</text>
<text x="0" y="0" transform="translate(1641.50,158.50) rotate(90)" font-size="30.6" fill="#0000ff">ASGE values</text>
<text x="26.00" y="605.00" font-size="48" fill="#000" font-weight="bold">d</text>
<polyline points="120.20,612.70 109.30,644.10 136.40,661.10" stroke="#dff5fc" stroke-width="15" fill="none" stroke-linejoin="round" stroke-linecap="round"/>
<polyline points="52.50,665.00 89.70,648.90 136.40,661.10 184.20,649.20 208.20,687.50 162.10,674.60 114.80,688.10 89.70,648.90" stroke="#dff5fc" stroke-width="25" fill="none" stroke-linejoin="round" stroke-linecap="round"/>
<polyline points="114.80,688.10 122.90,719.90" stroke="#dff5fc" stroke-width="15" fill="none" stroke-linejoin="round" stroke-linecap="round"/>
<polyline points="136.40,661.10 162.10,674.60" stroke="#dff5fc" stroke-width="20" fill="none" stroke-linejoin="round" stroke-linecap="round"/>
<polyline points="357.80,692.90 331.10,705.90" stroke="#d8f6f2" stroke-width="20" fill="none" stroke-linejoin="round" stroke-linecap="round"/>
<polyline points="162.10,674.60 186.80,703.00" stroke="#dff5fc" stroke-width="15" fill="none" stroke-linejoin="round" stroke-linecap="round"/>
<polyline points="208.20,687.50 257.80,671.30" stroke="#dff5fc" stroke-width="18" fill="none" stroke-linejoin="round" stroke-linecap="round"/>
<rect x="95.20" y="598.90" width="44.50" height="27.60" fill="#dff5fc" stroke="none" stroke-width="0" rx="9"/>
<rect x="30.20" y="651.70" width="44.50" height="26.90" fill="#dff5fc" stroke="none" stroke-width="0" rx="9"/>
<rect x="100.60" y="706.50" width="44.50" height="26.90" fill="#dff5fc" stroke="none" stroke-width="0" rx="9"/>
<rect x="164.30" y="689.60" width="45.10" height="26.90" fill="#dff5fc" stroke="none" stroke-width="0" rx="9"/>
<polyline points="257.80,671.30 287.00,718.90 312.70,680.70 357.80,692.90 402.60,681.40 377.30,719.70 331.10,705.90 287.00,718.90" stroke="#d8f6f2" stroke-width="25" fill="none" stroke-linejoin="round" stroke-linecap="round"/>
<polyline points="357.80,692.90 385.30,675.60 395.00,645.00" stroke="#d8f6f2" stroke-width="15" fill="none" stroke-linejoin="round" stroke-linecap="round"/>
<polyline points="402.60,681.40 439.00,697.00" stroke="#d8f6f2" stroke-width="15" fill="none" stroke-linejoin="round" stroke-linecap="round"/>
<polyline points="331.10,705.90 306.50,733.70" stroke="#d8f6f2" stroke-width="15" fill="none" stroke-linejoin="round" stroke-linecap="round"/>
<polyline points="377.30,719.70 368.20,749.90" stroke="#d8f6f2" stroke-width="15" fill="none" stroke-linejoin="round" stroke-linecap="round"/>
<circle cx="257.8" cy="671.3" r="12" fill="#d8f6f2"/>
<rect x="372.80" y="631.30" width="44.50" height="27.90" fill="#d8f6f2" stroke="none" stroke-width="0" rx="9"/>
<rect x="416.80" y="683.30" width="44.50" height="27.20" fill="#d8f6f2" stroke="none" stroke-width="0" rx="9"/>
<rect x="284.70" y="720.20" width="43.70" height="27.10" fill="#d8f6f2" stroke="none" stroke-width="0" rx="9"/>
<rect x="346.00" y="736.00" width="44.50" height="27.90" fill="#d8f6f2" stroke="none" stroke-width="0" rx="9"/>
<line x1="109.30" y1="624.50" x2="109.30" y2="644.10" stroke="#000" stroke-width="1.35" stroke-linecap="round"/>
<line x1="109.30" y1="644.10" x2="136.40" y2="661.10" stroke="#000" stroke-width="1.35" stroke-linecap="round"/>
<line x1="89.70" y1="648.90" x2="72.10" y2="659.00" stroke="#000" stroke-width="1.35" stroke-linecap="round"/>
<line x1="89.70" y1="648.90" x2="136.40" y2="661.10" stroke="#000" stroke-width="1.35" stroke-linecap="round"/>
<line x1="136.40" y1="661.10" x2="172.30" y2="651.60" stroke="#000" stroke-width="1.35" stroke-linecap="round"/>
<line x1="191.20" y1="659.70" x2="208.20" y2="687.50" stroke="#000" stroke-width="1.35" stroke-linecap="round"/>
<polygon points="208.47,686.54 162.77,672.19 161.43,677.01 207.93,688.46" fill="#000"/>
<circle cx="208.20" cy="687.50" r="1.00" fill="#000"/>
<circle cx="162.10" cy="674.60" r="2.50" fill="#000"/>
<polygon points="161.41,672.20 113.91,684.97 115.69,691.23 162.79,677.00" fill="#000"/>
<circle cx="162.10" cy="674.60" r="2.50" fill="#000"/>
<circle cx="114.80" cy="688.10" r="3.25" fill="#000"/>
<polygon points="117.54,686.35 90.37,648.47 89.03,649.33 112.06,689.85" fill="#000"/>
<circle cx="114.80" cy="688.10" r="3.25" fill="#000"/>
<circle cx="89.70" cy="648.90" r="0.80" fill="#000"/>
<line x1="114.80" y1="688.10" x2="114.80" y2="707.80" stroke="#000" stroke-width="1.35" stroke-linecap="round"/>
<line x1="162.10" y1="674.60" x2="173.00" y2="692.90" stroke="#000" stroke-width="1.35" stroke-linecap="round"/>
<line x1="208.20" y1="687.50" x2="244.40" y2="674.90" stroke="#000" stroke-width="1.35" stroke-linecap="round"/>
<line x1="264.70" y1="681.40" x2="287.00" y2="718.90" stroke="#000" stroke-width="1.35" stroke-linecap="round"/>
<line x1="287.00" y1="718.90" x2="305.10" y2="690.80" stroke="#000" stroke-width="1.35" stroke-linecap="round"/>
<line x1="323.90" y1="683.50" x2="357.80" y2="692.90" stroke="#000" stroke-width="1.35" stroke-linecap="round"/>
<line x1="357.80" y1="692.90" x2="402.60" y2="681.40" stroke="#000" stroke-width="1.35" stroke-linecap="round"/>
<line x1="357.80" y1="692.90" x2="385.30" y2="675.60" stroke="#000" stroke-width="1.35" stroke-linecap="round"/>
<line x1="385.30" y1="675.60" x2="386.00" y2="656.10" stroke="#000" stroke-width="1.35" stroke-linecap="round"/>
<line x1="402.60" y1="681.40" x2="419.20" y2="690.00" stroke="#000" stroke-width="1.35" stroke-linecap="round"/>
<polygon points="401.93,680.96 374.17,717.63 380.43,721.77 403.27,681.84" fill="#000"/>
<circle cx="402.60" cy="681.40" r="0.80" fill="#000"/>
<circle cx="377.30" cy="719.70" r="3.75" fill="#000"/>
<polygon points="378.16,716.83 331.82,703.50 330.38,708.30 376.44,722.57" fill="#000"/>
<circle cx="377.30" cy="719.70" r="3.00" fill="#000"/>
<circle cx="331.10" cy="705.90" r="2.50" fill="#000"/>
<polygon points="330.39,703.50 286.72,717.94 287.28,719.86 331.81,708.30" fill="#000"/>
<circle cx="331.10" cy="705.90" r="2.50" fill="#000"/>
<circle cx="287.00" cy="718.90" r="1.00" fill="#000"/>
<line x1="331.10" y1="705.90" x2="321.00" y2="723.30" stroke="#000" stroke-width="1.35" stroke-linecap="round"/>
<line x1="377.30" y1="719.70" x2="377.30" y2="739.10" stroke="#000" stroke-width="1.35" stroke-linecap="round"/>
<text x="117.45" y="620.50" font-size="21.5" fill="#000" text-anchor="middle" font-weight="bold" textLength="34.22" lengthAdjust="spacingAndGlyphs">OH</text>
<text x="52.45" y="672.60" font-size="21.5" fill="#000" text-anchor="middle" font-weight="bold" textLength="34.22" lengthAdjust="spacingAndGlyphs">HO</text>
<text x="184.15" y="656.30" font-size="21.5" fill="#000" text-anchor="middle" font-weight="bold" textLength="17.22" lengthAdjust="spacingAndGlyphs">O</text>
<text x="122.85" y="727.40" font-size="21.5" fill="#000" text-anchor="middle" font-weight="bold" textLength="34.22" lengthAdjust="spacingAndGlyphs">OH</text>
<text x="186.85" y="710.50" font-size="21.5" fill="#ff0000" text-anchor="middle" font-weight="bold" textLength="34.82" lengthAdjust="spacingAndGlyphs">OH</text>
<text x="257.80" y="678.50" font-size="21.5" fill="#000" text-anchor="middle" font-weight="bold" textLength="16.92" lengthAdjust="spacingAndGlyphs">O</text>
<text x="312.70" y="687.90" font-size="21.5" fill="#000" text-anchor="middle" font-weight="bold" textLength="18.32" lengthAdjust="spacingAndGlyphs">O</text>
<text x="395.05" y="653.20" font-size="21.5" fill="#000" text-anchor="middle" font-weight="bold" textLength="34.22" lengthAdjust="spacingAndGlyphs">OH</text>
<text x="439.05" y="704.50" font-size="21.5" fill="#000" text-anchor="middle" font-weight="bold" textLength="34.22" lengthAdjust="spacingAndGlyphs">OH</text>
<text x="306.55" y="741.30" font-size="21.5" fill="#000" text-anchor="middle" font-weight="bold" textLength="33.42" lengthAdjust="spacingAndGlyphs">HO</text>
<text x="368.25" y="757.90" font-size="21.5" fill="#000" text-anchor="middle" font-weight="bold" textLength="34.22" lengthAdjust="spacingAndGlyphs">HO</text>
<text x="232.70" y="770.30" font-size="26" fill="#000" font-weight="bold" text-anchor="middle">Trehalose</text>
<text x="257.20" y="852.50" font-size="31" fill="#0000ee" font-weight="bold" letter-spacing="3.2">Stf0</text>
<g filter="url(#gO2)">
<path d="M145.1,815 C185,813 236,817 234,826 C232,836 150,851 97.7,860" stroke="#0f0f8a" stroke-width="3.6" fill="none" stroke-linejoin="round" stroke-linecap="round"/>
<polyline points="109.76,849.49 97.70,860.00 112.84,865.19" stroke="#0f0f8a" stroke-width="3.6" fill="none" stroke-linejoin="round" stroke-linecap="round"/>
</g>
<rect x="234.3" y="785.9" width="6.4" height="82" fill="#0a0a94"/>
<polygon points="227.80,865.90 247.20,865.90 237.50,885.30" fill="#0a0a94"/>
<text transform="translate(109.60,811.50) rotate(23)" x="0" y="8.05" font-size="22.5" font-weight="bold" text-anchor="middle" fill="#000" stroke="#000" stroke-width="1.0">PAPS</text>
<text transform="translate(76.30,867.50) rotate(24)" x="0" y="8.05" font-size="22.5" font-weight="bold" text-anchor="middle" fill="#000" stroke="#000" stroke-width="1.0">PAP</text>
<rect x="122.40" y="1011.70" width="30.70" height="29.90" fill="#fcd6cf" stroke="none" stroke-width="0" rx="10"/>
<rect x="191.90" y="1000.30" width="30.70" height="29.00" fill="#fcd6cf" stroke="none" stroke-width="0" rx="10"/>
<polyline points="137.70,1026.60 172.50,1019.00 207.20,1014.80" stroke="#fcd6cf" stroke-width="20" fill="none" stroke-linejoin="round" stroke-linecap="round"/>
<polyline points="172.50,1019.00 188.80,1050.80" stroke="#fcd6cf" stroke-width="20" fill="none" stroke-linejoin="round" stroke-linecap="round"/>
<rect x="164.60" y="1036.40" width="48.40" height="28.90" fill="#fcd6cf" stroke="none" stroke-width="0" rx="10"/>
<polyline points="63.80,911.80 80.10,942.20 112.70,953.60" stroke="#dff5fc" stroke-width="15" fill="none" stroke-linejoin="round" stroke-linecap="round"/>
<polyline points="26.00,972.50 61.60,951.00 112.70,953.60 158.40,933.30 192.70,965.90 143.50,962.40 95.10,983.50 61.60,951.00" stroke="#dff5fc" stroke-width="25" fill="none" stroke-linejoin="round" stroke-linecap="round"/>
<polyline points="95.10,983.50 107.40,1012.10" stroke="#dff5fc" stroke-width="15" fill="none" stroke-linejoin="round" stroke-linecap="round"/>
<polyline points="112.70,953.60 143.50,962.40" stroke="#dff5fc" stroke-width="20" fill="none" stroke-linejoin="round" stroke-linecap="round"/>
<polyline points="347.50,942.90 323.50,960.70" stroke="#d8f6f2" stroke-width="20" fill="none" stroke-linejoin="round" stroke-linecap="round"/>
<polyline points="143.50,962.40 165.00,987.00" stroke="#dff5fc" stroke-width="16" fill="none" stroke-linejoin="round" stroke-linecap="round"/>
<polyline points="192.70,965.90 239.70,941.30" stroke="#dff5fc" stroke-width="18" fill="none" stroke-linejoin="round" stroke-linecap="round"/>
<rect x="40.60" y="898.30" width="46.40" height="27.00" fill="#dff5fc" stroke="none" stroke-width="0" rx="9"/>
<rect x="2.80" y="959.00" width="46.30" height="27.00" fill="#dff5fc" stroke="none" stroke-width="0" rx="9"/>
<rect x="84.70" y="998.70" width="45.40" height="26.90" fill="#dff5fc" stroke="none" stroke-width="0" rx="9"/>
<circle cx="165" cy="987" r="12" fill="#dff5fc"/>
<polyline points="239.70,941.30 280.90,982.00 297.30,939.70 347.50,942.90 391.50,922.20 374.30,964.80 323.50,960.70 280.90,982.00" stroke="#d8f6f2" stroke-width="25" fill="none" stroke-linejoin="round" stroke-linecap="round"/>
<polyline points="347.50,942.90 372.30,921.50 360.00,891.00" stroke="#d8f6f2" stroke-width="15" fill="none" stroke-linejoin="round" stroke-linecap="round"/>
<polyline points="391.50,922.20 432.70,933.60" stroke="#d8f6f2" stroke-width="15" fill="none" stroke-linejoin="round" stroke-linecap="round"/>
<polyline points="323.50,960.70 304.20,991.60" stroke="#d8f6f2" stroke-width="15" fill="none" stroke-linejoin="round" stroke-linecap="round"/>
<polyline points="374.30,964.80 388.70,996.10" stroke="#d8f6f2" stroke-width="15" fill="none" stroke-linejoin="round" stroke-linecap="round"/>
<circle cx="239.7" cy="941.3" r="12" fill="#d8f6f2"/>
<rect x="334.70" y="877.00" width="46.30" height="27.90" fill="#d8f6f2" stroke="none" stroke-width="0" rx="9"/>
<rect x="409.60" y="919.70" width="46.30" height="27.80" fill="#d8f6f2" stroke="none" stroke-width="0" rx="9"/>
<rect x="281.00" y="978.10" width="46.40" height="27.10" fill="#d8f6f2" stroke="none" stroke-width="0" rx="9"/>
<rect x="365.60" y="982.20" width="46.30" height="27.80" fill="#d8f6f2" stroke="none" stroke-width="0" rx="9"/>
<line x1="75.70" y1="922.80" x2="80.10" y2="942.20" stroke="#000" stroke-width="1.35" stroke-linecap="round"/>
<line x1="80.10" y1="942.20" x2="112.70" y2="953.60" stroke="#000" stroke-width="1.35" stroke-linecap="round"/>
<line x1="61.60" y1="951.00" x2="44.90" y2="964.20" stroke="#000" stroke-width="1.35" stroke-linecap="round"/>
<line x1="61.60" y1="951.00" x2="112.70" y2="953.60" stroke="#000" stroke-width="1.35" stroke-linecap="round"/>
<line x1="112.70" y1="953.60" x2="146.10" y2="939.50" stroke="#000" stroke-width="1.35" stroke-linecap="round"/>
<line x1="168.10" y1="941.30" x2="192.70" y2="965.90" stroke="#000" stroke-width="1.35" stroke-linecap="round"/>
<polygon points="192.77,964.90 143.68,959.91 143.32,964.89 192.63,966.90" fill="#000"/>
<circle cx="192.70" cy="965.90" r="1.00" fill="#000"/>
<circle cx="143.50" cy="962.40" r="2.50" fill="#000"/>
<polygon points="142.50,960.11 93.70,980.29 96.50,986.71 144.50,964.69" fill="#000"/>
<circle cx="143.50" cy="962.40" r="2.50" fill="#000"/>
<circle cx="95.10" cy="983.50" r="3.50" fill="#000"/>
<polygon points="97.89,980.63 62.16,950.43 61.04,951.57 92.31,986.37" fill="#000"/>
<circle cx="95.10" cy="983.50" r="4.00" fill="#000"/>
<circle cx="61.60" cy="951.00" r="0.80" fill="#000"/>
<line x1="95.00" y1="986.20" x2="96.80" y2="1000.30" stroke="#000" stroke-width="1.35" stroke-linecap="round"/>
<line x1="144.30" y1="965.90" x2="155.80" y2="977.40" stroke="#000" stroke-width="1.35" stroke-linecap="round"/>
<line x1="192.70" y1="965.90" x2="228.00" y2="946.60" stroke="#000" stroke-width="1.35" stroke-linecap="round"/>
<line x1="249.10" y1="950.10" x2="280.90" y2="982.00" stroke="#000" stroke-width="1.35" stroke-linecap="round"/>
<line x1="280.90" y1="982.00" x2="293.20" y2="951.10" stroke="#000" stroke-width="1.35" stroke-linecap="round"/>
<line x1="309.70" y1="940.80" x2="347.50" y2="942.90" stroke="#000" stroke-width="1.35" stroke-linecap="round"/>
<line x1="347.50" y1="942.90" x2="391.50" y2="922.20" stroke="#000" stroke-width="1.35" stroke-linecap="round"/>
<line x1="347.50" y1="942.90" x2="372.30" y2="921.50" stroke="#000" stroke-width="1.35" stroke-linecap="round"/>
<line x1="372.30" y1="921.50" x2="369.50" y2="902.30" stroke="#000" stroke-width="1.35" stroke-linecap="round"/>
<line x1="391.50" y1="922.20" x2="412.10" y2="928.40" stroke="#000" stroke-width="1.35" stroke-linecap="round"/>
<polygon points="390.76,921.90 370.59,963.30 378.01,966.30 392.24,922.50" fill="#000"/>
<circle cx="391.50" cy="922.20" r="0.80" fill="#000"/>
<circle cx="374.30" cy="964.80" r="4.00" fill="#000"/>
<polygon points="374.54,961.81 323.70,958.21 323.30,963.19 374.06,967.79" fill="#000"/>
<circle cx="374.30" cy="964.80" r="3.00" fill="#000"/>
<circle cx="323.50" cy="960.70" r="2.50" fill="#000"/>
<polygon points="322.38,958.46 280.45,981.11 281.35,982.89 324.62,962.94" fill="#000"/>
<circle cx="323.50" cy="960.70" r="2.50" fill="#000"/>
<circle cx="280.90" cy="982.00" r="1.00" fill="#000"/>
<line x1="323.50" y1="964.80" x2="317.30" y2="980.00" stroke="#000" stroke-width="1.35" stroke-linecap="round"/>
<line x1="375.00" y1="966.20" x2="378.50" y2="984.80" stroke="#000" stroke-width="1.35" stroke-linecap="round"/>
<line x1="168.10" y1="998.50" x2="170.70" y2="1009.10" stroke="#000" stroke-width="1.35" stroke-linecap="round"/>
<line x1="147.00" y1="1024.00" x2="164.60" y2="1021.40" stroke="#ff0000" stroke-width="1.4" stroke-linecap="round"/>
<line x1="147.90" y1="1027.50" x2="165.50" y2="1024.90" stroke="#ff0000" stroke-width="1.4" stroke-linecap="round"/>
<line x1="180.40" y1="1017.90" x2="197.10" y2="1015.20" stroke="#ff0000" stroke-width="1.4" stroke-linecap="round"/>
<line x1="181.30" y1="1021.40" x2="198.00" y2="1018.70" stroke="#ff0000" stroke-width="1.4" stroke-linecap="round"/>
<line x1="175.10" y1="1028.40" x2="176.90" y2="1039.90" stroke="#ff0000" stroke-width="1.4" stroke-linecap="round"/>
<text x="63.80" y="919.30" font-size="21.5" fill="#000" text-anchor="middle" font-weight="bold" textLength="36.12" lengthAdjust="spacingAndGlyphs">HO</text>
<text x="25.95" y="980.00" font-size="21.5" fill="#000" text-anchor="middle" font-weight="bold" textLength="36.02" lengthAdjust="spacingAndGlyphs">HO</text>
<text x="158.40" y="940.40" font-size="21.5" fill="#000" text-anchor="middle" font-weight="bold" textLength="17.52" lengthAdjust="spacingAndGlyphs">O</text>
<text x="107.40" y="1019.60" font-size="21.5" fill="#000" text-anchor="middle" font-weight="bold" textLength="35.12" lengthAdjust="spacingAndGlyphs">OH</text>
<text x="165.05" y="994.10" font-size="21.5" fill="#ff0000" text-anchor="middle" font-weight="bold" textLength="18.42" lengthAdjust="spacingAndGlyphs">O</text>
<text x="239.85" y="948.30" font-size="21.5" fill="#000" text-anchor="middle" font-weight="bold" textLength="18.42" lengthAdjust="spacingAndGlyphs">O</text>
<text x="297.35" y="947.00" font-size="21.5" fill="#000" text-anchor="middle" font-weight="bold" textLength="18.22" lengthAdjust="spacingAndGlyphs">O</text>
<text x="357.85" y="898.90" font-size="21.5" fill="#000" text-anchor="middle" font-weight="bold" textLength="36.02" lengthAdjust="spacingAndGlyphs">HO</text>
<text x="432.75" y="941.50" font-size="21.5" fill="#000" text-anchor="middle" font-weight="bold" textLength="36.02" lengthAdjust="spacingAndGlyphs">OH</text>
<text x="304.20" y="999.20" font-size="21.5" fill="#000" text-anchor="middle" font-weight="bold" textLength="36.12" lengthAdjust="spacingAndGlyphs">HO</text>
<text x="388.75" y="1004.00" font-size="21.5" fill="#000" text-anchor="middle" font-weight="bold" textLength="36.02" lengthAdjust="spacingAndGlyphs">OH</text>
<text x="172.50" y="1027.50" font-size="21.5" fill="#ff0000" text-anchor="middle" textLength="15.72" lengthAdjust="spacingAndGlyphs">S</text>
<text x="137.75" y="1034.60" font-size="21.5" fill="#ff0000" text-anchor="middle" textLength="18.42" lengthAdjust="spacingAndGlyphs">O</text>
<text x="207.25" y="1022.30" font-size="21.5" fill="#ff0000" text-anchor="middle" textLength="18.42" lengthAdjust="spacingAndGlyphs">O</text>
<text x="188.80" y="1058.30" font-size="21.5" fill="#ff0000" text-anchor="middle" textLength="36.12" lengthAdjust="spacingAndGlyphs">OH</text>
<text x="238.40" y="1099.80" font-size="26" fill="#000" font-weight="bold" text-anchor="middle">Trehalose-2-sulfate</text>
<text x="566.50" y="605.00" font-size="48" fill="#000" font-weight="bold">e</text>
<polyline points="572.60,1027.80 723.00,1027.80 746.00,1007.00 755.20,994.70 764.50,967.00 773.70,930.20 782.90,896.40 792.00,870.30 801.30,850.40 809.90,836.60 818.20,840.30 827.40,852.00 836.60,884.20 845.80,914.90 853.50,945.50 861.10,973.20 868.80,996.20 878.00,1013.00 890.30,1025.30 908.70,1027.80 1040.00,1027.80" stroke="#ff8000" stroke-width="4.6" fill="none" stroke-linejoin="round" stroke-linecap="round"/>
<polyline points="572.60,1027.80 729.20,1027.80 746.00,1007.00 756.80,988.50 766.00,954.80 773.70,921.00 782.90,862.70 792.00,816.60 800.70,781.30 809.00,749.00 817.60,734.70 826.80,743.90 836.00,769.00 844.30,813.60 853.50,868.80 862.70,911.80 870.30,945.50 878.00,976.00 887.20,1008.50 896.40,1020.70 911.80,1026.90 1040.00,1027.80 1050.00,1026.00 1058.00,1024.50 1066.00,1022.00" stroke="#ff0000" stroke-width="4.6" fill="none" stroke-linejoin="round" stroke-linecap="round"/>
<polyline points="572.60,1027.80 721.50,1027.80 736.80,1022.30 752.20,1013.70 764.50,1005.40 773.70,996.20 782.90,985.50 792.00,976.20 801.30,971.60 818.20,969.20 825.80,971.00 835.00,977.80 844.30,988.50 853.50,997.70 862.70,1006.90 871.90,1014.60 884.20,1021.70 899.50,1026.00 914.90,1027.80 1066.00,1027.80" stroke="#0000ff" stroke-width="4.8" fill="none" stroke-linejoin="round" stroke-linecap="round"/>
<line x1="571.60" y1="717.50" x2="571.60" y2="1036.30" stroke="#000" stroke-width="4.3" stroke-linecap="butt"/>
<line x1="569.60" y1="1034.20" x2="1068.00" y2="1034.20" stroke="#000" stroke-width="4.2" stroke-linecap="butt"/>
<line x1="562.50" y1="1027.60" x2="571.60" y2="1027.60" stroke="#000" stroke-width="3.6" stroke-linecap="butt"/>
<text x="555.30" y="1035.80" font-size="28.3" fill="#000" text-anchor="end">0</text>
<line x1="562.50" y1="965.96" x2="571.60" y2="965.96" stroke="#000" stroke-width="3.6" stroke-linecap="butt"/>
<text x="555.30" y="974.16" font-size="28.3" fill="#000" text-anchor="end">20</text>
<line x1="562.50" y1="904.32" x2="571.60" y2="904.32" stroke="#000" stroke-width="3.6" stroke-linecap="butt"/>
<text x="555.30" y="912.52" font-size="28.3" fill="#000" text-anchor="end">40</text>
<line x1="562.50" y1="842.68" x2="571.60" y2="842.68" stroke="#000" stroke-width="3.6" stroke-linecap="butt"/>
<text x="555.30" y="850.88" font-size="28.3" fill="#000" text-anchor="end">60</text>
<line x1="562.50" y1="781.04" x2="571.60" y2="781.04" stroke="#000" stroke-width="3.6" stroke-linecap="butt"/>
<text x="555.30" y="789.24" font-size="28.3" fill="#000" text-anchor="end">80</text>
<line x1="562.50" y1="719.40" x2="571.60" y2="719.40" stroke="#000" stroke-width="3.6" stroke-linecap="butt"/>
<text x="555.30" y="727.60" font-size="28.3" fill="#000" text-anchor="end">100</text>
<line x1="566.60" y1="996.78" x2="571.60" y2="996.78" stroke="#000" stroke-width="2.8" stroke-linecap="butt"/>
<line x1="566.60" y1="935.14" x2="571.60" y2="935.14" stroke="#000" stroke-width="2.8" stroke-linecap="butt"/>
<line x1="566.60" y1="873.50" x2="571.60" y2="873.50" stroke="#000" stroke-width="2.8" stroke-linecap="butt"/>
<line x1="566.60" y1="811.86" x2="571.60" y2="811.86" stroke="#000" stroke-width="2.8" stroke-linecap="butt"/>
<line x1="566.60" y1="750.22" x2="571.60" y2="750.22" stroke="#000" stroke-width="2.8" stroke-linecap="butt"/>
<line x1="572.60" y1="1034.00" x2="572.60" y2="1042.50" stroke="#000" stroke-width="3.6" stroke-linecap="butt"/>
<text x="572.60" y="1071.30" font-size="27.5" fill="#000" text-anchor="middle">0</text>
<line x1="690.60" y1="1034.00" x2="690.60" y2="1042.50" stroke="#000" stroke-width="3.6" stroke-linecap="butt"/>
<text x="690.60" y="1071.30" font-size="27.5" fill="#000" text-anchor="middle">1</text>
<line x1="808.60" y1="1034.00" x2="808.60" y2="1042.50" stroke="#000" stroke-width="3.6" stroke-linecap="butt"/>
<text x="808.60" y="1071.30" font-size="27.5" fill="#000" text-anchor="middle">2</text>
<line x1="926.60" y1="1034.00" x2="926.60" y2="1042.50" stroke="#000" stroke-width="3.6" stroke-linecap="butt"/>
<text x="926.60" y="1071.30" font-size="27.5" fill="#000" text-anchor="middle">3</text>
<line x1="1044.60" y1="1034.00" x2="1044.60" y2="1042.50" stroke="#000" stroke-width="3.6" stroke-linecap="butt"/>
<text x="1044.60" y="1071.30" font-size="27.5" fill="#000" text-anchor="middle">4</text>
<line x1="631.60" y1="1034.00" x2="631.60" y2="1039.00" stroke="#000" stroke-width="2.8" stroke-linecap="butt"/>
<line x1="749.60" y1="1034.00" x2="749.60" y2="1039.00" stroke="#000" stroke-width="2.8" stroke-linecap="butt"/>
<line x1="867.60" y1="1034.00" x2="867.60" y2="1039.00" stroke="#000" stroke-width="2.8" stroke-linecap="butt"/>
<line x1="985.60" y1="1034.00" x2="985.60" y2="1039.00" stroke="#000" stroke-width="2.8" stroke-linecap="butt"/>
<text x="806.00" y="1101.80" font-size="30.8" fill="#000" text-anchor="middle">Time (min)</text>
<text x="0" y="0" transform="translate(496.50,876.00) rotate(-90)" font-size="27.8" fill="#000" text-anchor="middle">Relative intensity (%)</text>
<text x="811.50" y="686.00" font-size="30.2" fill="#0000ff" text-anchor="middle">Trehalose-2-sulfate</text>
<line x1="813.80" y1="689.60" x2="813.80" y2="706.00" stroke="#0000ff" stroke-width="3.2" stroke-linecap="butt"/>
<polygon points="807.50,704.00 820.10,704.00 813.80,717.30" fill="#0000ff"/>
<line x1="815.00" y1="724.80" x2="1040.00" y2="724.80" stroke="#2c08f4" stroke-width="5" stroke-linecap="butt" stroke-dasharray="19.5 14.5"/>
<line x1="815.00" y1="830.70" x2="906.00" y2="830.70" stroke="#2c08f4" stroke-width="5" stroke-linecap="butt" stroke-dasharray="19.5 14.5"/>
<line x1="823.70" y1="964.00" x2="1046.00" y2="964.00" stroke="#2c08f4" stroke-width="5" stroke-linecap="butt" stroke-dasharray="19.5 14.5"/>
<line x1="1038.00" y1="737.00" x2="1038.00" y2="963.00" stroke="#ff0000" stroke-width="4.5" stroke-linecap="butt"/>
<polyline points="1028.00,748.00 1038.00,735.00 1048.00,748.00" stroke="#ff0000" stroke-width="4.5" fill="none" stroke-linejoin="round" stroke-linecap="round"/>
<line x1="909.00" y1="833.00" x2="909.00" y2="956.00" stroke="#ffc000" stroke-width="4.5" stroke-linecap="butt"/>
<polyline points="899.00,845.00 909.00,832.00 919.00,845.00" stroke="#ffc000" stroke-width="4.5" fill="none" stroke-linejoin="round" stroke-linecap="round"/>
<text x="922.00" y="911.00" font-size="33.5" fill="#ffc000">2.51</text>
<text x="0" y="0" transform="translate(1045.50,789.80) rotate(90)" font-size="39.3" fill="#ff0000">3.82-fold</text>
<text x="0" y="0" transform="translate(1084.50,777.70) rotate(90)" font-size="31" fill="#0000ff">ASGE values</text>
<text x="1120.80" y="604.70" font-size="48" fill="#000" font-weight="bold" textLength="17.7" lengthAdjust="spacingAndGlyphs">f</text>
<text x="1340.40" y="637.80" font-size="24.6" fill="#000" text-anchor="end">This study</text>
<text x="1340.40" y="677.00" font-size="25" fill="#000" text-anchor="end">AST IV- mediated</text>
<rect x="1352.40" y="617.20" width="54.00" height="25.30" fill="#faaaa6" stroke="#000" stroke-width="3" rx="1"/>
<rect x="1352.40" y="653.50" width="54.00" height="25.50" fill="#c3d9ef" stroke="#000" stroke-width="3" rx="1"/>
<text x="1415.3" y="639" font-size="25">10 mM ATP + 2 mM polyP<tspan font-size="17.5" dy="6.5">6</tspan></text>
<text x="1415.30" y="674.80" font-size="25" fill="#000">10 mM PAP + 20 mM PNPS</text>
<rect x="1274.90" y="902.23" width="33.60" height="135.07" fill="#faaaa6" stroke="#000" stroke-width="3" rx="0"/>
<rect x="1308.70" y="970.60" width="33.50" height="66.70" fill="#c3d9ef" stroke="#000" stroke-width="3" rx="0"/>
<rect x="1359.45" y="786.84" width="33.60" height="250.46" fill="#faaaa6" stroke="#000" stroke-width="3" rx="0"/>
<rect x="1393.25" y="900.56" width="33.50" height="136.73" fill="#c3d9ef" stroke="#000" stroke-width="3" rx="0"/>
<rect x="1444.00" y="720.47" width="33.60" height="316.82" fill="#faaaa6" stroke="#000" stroke-width="3" rx="0"/>
<rect x="1477.80" y="858.54" width="33.50" height="178.76" fill="#c3d9ef" stroke="#000" stroke-width="3" rx="0"/>
<rect x="1528.55" y="718.81" width="33.60" height="318.49" fill="#faaaa6" stroke="#000" stroke-width="3" rx="0"/>
<rect x="1562.35" y="803.52" width="33.50" height="233.78" fill="#c3d9ef" stroke="#000" stroke-width="3" rx="0"/>
<rect x="1613.10" y="713.14" width="33.60" height="324.16" fill="#faaaa6" stroke="#000" stroke-width="3" rx="0"/>
<rect x="1646.90" y="790.18" width="33.50" height="247.12" fill="#c3d9ef" stroke="#000" stroke-width="3" rx="0"/>
<circle cx="1291.70" cy="893.00" r="4.6" fill="#fff" stroke="#333" stroke-width="0.9"/>
<circle cx="1291.70" cy="902.00" r="4.6" fill="#fff" stroke="#333" stroke-width="0.9"/>
<circle cx="1291.70" cy="907.00" r="4.6" fill="#fff" stroke="#333" stroke-width="0.9"/>
<circle cx="1326.50" cy="963.20" r="4.6" fill="#fff" stroke="#333" stroke-width="0.9"/>
<circle cx="1326.50" cy="970.20" r="4.6" fill="#fff" stroke="#333" stroke-width="0.9"/>
<circle cx="1326.50" cy="975.90" r="4.6" fill="#fff" stroke="#333" stroke-width="0.9"/>
<circle cx="1376.60" cy="780.20" r="4.6" fill="#fff" stroke="#333" stroke-width="0.9"/>
<circle cx="1376.60" cy="786.00" r="4.6" fill="#fff" stroke="#333" stroke-width="0.9"/>
<circle cx="1376.60" cy="790.30" r="4.6" fill="#fff" stroke="#333" stroke-width="0.9"/>
<circle cx="1410.80" cy="892.90" r="4.6" fill="#fff" stroke="#333" stroke-width="0.9"/>
<circle cx="1410.80" cy="900.00" r="4.6" fill="#fff" stroke="#333" stroke-width="0.9"/>
<circle cx="1410.80" cy="910.20" r="4.6" fill="#fff" stroke="#333" stroke-width="0.9"/>
<circle cx="1461.00" cy="717.50" r="4.6" fill="#fff" stroke="#333" stroke-width="0.9"/>
<circle cx="1461.00" cy="720.30" r="4.6" fill="#fff" stroke="#333" stroke-width="0.9"/>
<circle cx="1461.00" cy="724.00" r="4.6" fill="#fff" stroke="#333" stroke-width="0.9"/>
<circle cx="1495.70" cy="853.10" r="4.6" fill="#fff" stroke="#333" stroke-width="0.9"/>
<circle cx="1495.70" cy="859.60" r="4.6" fill="#fff" stroke="#333" stroke-width="0.9"/>
<circle cx="1495.70" cy="864.00" r="4.6" fill="#fff" stroke="#333" stroke-width="0.9"/>
<circle cx="1545.70" cy="713.30" r="4.6" fill="#fff" stroke="#333" stroke-width="0.9"/>
<circle cx="1545.70" cy="720.30" r="4.6" fill="#fff" stroke="#333" stroke-width="0.9"/>
<circle cx="1545.70" cy="724.10" r="4.6" fill="#fff" stroke="#333" stroke-width="0.9"/>
<circle cx="1580.50" cy="796.80" r="4.6" fill="#fff" stroke="#333" stroke-width="0.9"/>
<circle cx="1580.50" cy="802.50" r="4.6" fill="#fff" stroke="#333" stroke-width="0.9"/>
<circle cx="1580.50" cy="808.00" r="4.6" fill="#fff" stroke="#333" stroke-width="0.9"/>
<circle cx="1630.20" cy="710.20" r="4.6" fill="#fff" stroke="#333" stroke-width="0.9"/>
<circle cx="1630.20" cy="712.20" r="4.6" fill="#fff" stroke="#333" stroke-width="0.9"/>
<circle cx="1630.20" cy="714.00" r="4.6" fill="#fff" stroke="#333" stroke-width="0.9"/>
<circle cx="1664.70" cy="786.70" r="4.6" fill="#fff" stroke="#333" stroke-width="0.9"/>
<circle cx="1664.70" cy="790.60" r="4.6" fill="#fff" stroke="#333" stroke-width="0.9"/>
<circle cx="1664.70" cy="794.50" r="4.6" fill="#fff" stroke="#333" stroke-width="0.9"/>
<polyline points="1290.60,879.80 1290.60,868.40 1326.50,868.40 1326.50,952.50" stroke="#888" stroke-width="1.1" fill="none" stroke-linejoin="miter" stroke-linecap="butt"/>
<text x="1306.00" y="863.00" font-size="15" fill="#000" font-weight="bold" text-anchor="middle">* * *</text>
<polyline points="1377.30,773.00 1377.30,762.20 1412.40,762.20 1412.40,879.90" stroke="#888" stroke-width="1.1" fill="none" stroke-linejoin="miter" stroke-linecap="butt"/>
<text x="1394.00" y="756.50" font-size="15" fill="#000" font-weight="bold" text-anchor="middle">* * *</text>
<polyline points="1461.40,711.40 1461.40,700.50 1497.50,700.50 1497.50,838.70" stroke="#888" stroke-width="1.1" fill="none" stroke-linejoin="miter" stroke-linecap="butt"/>
<text x="1479.00" y="696.50" font-size="15" fill="#000" font-weight="bold" text-anchor="middle">* * *</text>
<polyline points="1548.30,705.60 1548.30,694.30 1580.50,694.30 1580.50,786.00" stroke="#888" stroke-width="1.1" fill="none" stroke-linejoin="miter" stroke-linecap="butt"/>
<text x="1566.00" y="692.50" font-size="15" fill="#000" font-weight="bold" text-anchor="middle">* *</text>
<polyline points="1629.50,703.20 1629.50,692.40 1663.50,692.40 1663.50,776.00" stroke="#888" stroke-width="1.1" fill="none" stroke-linejoin="miter" stroke-linecap="butt"/>
<text x="1647.00" y="687.50" font-size="15" fill="#000" font-weight="bold" text-anchor="middle">* * *</text>
<line x1="1266.80" y1="702.20" x2="1266.80" y2="1038.30" stroke="#000" stroke-width="4" stroke-linecap="butt"/>
<line x1="1260.50" y1="1036.30" x2="1691.40" y2="1036.30" stroke="#000" stroke-width="4" stroke-linecap="butt"/>
<line x1="1260.80" y1="1037.30" x2="1266.80" y2="1037.30" stroke="#000" stroke-width="3.6" stroke-linecap="butt"/>
<text x="1257.50" y="1044.70" font-size="24.2" fill="#000" text-anchor="end">0</text>
<line x1="1260.80" y1="970.60" x2="1266.80" y2="970.60" stroke="#000" stroke-width="3.6" stroke-linecap="butt"/>
<text x="1257.50" y="978.00" font-size="24.2" fill="#000" text-anchor="end">20</text>
<line x1="1260.80" y1="903.90" x2="1266.80" y2="903.90" stroke="#000" stroke-width="3.6" stroke-linecap="butt"/>
<text x="1257.50" y="911.30" font-size="24.2" fill="#000" text-anchor="end">40</text>
<line x1="1260.80" y1="837.20" x2="1266.80" y2="837.20" stroke="#000" stroke-width="3.6" stroke-linecap="butt"/>
<text x="1257.50" y="844.60" font-size="24.2" fill="#000" text-anchor="end">60</text>
<line x1="1260.80" y1="770.50" x2="1266.80" y2="770.50" stroke="#000" stroke-width="3.6" stroke-linecap="butt"/>
<text x="1257.50" y="777.90" font-size="24.2" fill="#000" text-anchor="end">80</text>
<line x1="1260.80" y1="703.80" x2="1266.80" y2="703.80" stroke="#000" stroke-width="3.6" stroke-linecap="butt"/>
<text x="1257.50" y="711.20" font-size="24.2" fill="#000" text-anchor="end">100</text>
<line x1="1263.60" y1="1003.95" x2="1266.80" y2="1003.95" stroke="#000" stroke-width="2.6" stroke-linecap="butt"/>
<line x1="1263.60" y1="937.25" x2="1266.80" y2="937.25" stroke="#000" stroke-width="2.6" stroke-linecap="butt"/>
<line x1="1263.60" y1="870.55" x2="1266.80" y2="870.55" stroke="#000" stroke-width="2.6" stroke-linecap="butt"/>
<line x1="1263.60" y1="803.85" x2="1266.80" y2="803.85" stroke="#000" stroke-width="2.6" stroke-linecap="butt"/>
<line x1="1263.60" y1="737.15" x2="1266.80" y2="737.15" stroke="#000" stroke-width="2.6" stroke-linecap="butt"/>
<line x1="1308.00" y1="1036.00" x2="1308.00" y2="1042.30" stroke="#000" stroke-width="3.6" stroke-linecap="butt"/>
<text x="1308.50" y="1065.50" font-size="24.5" fill="#000" text-anchor="middle">3</text>
<line x1="1392.60" y1="1036.00" x2="1392.60" y2="1042.30" stroke="#000" stroke-width="3.6" stroke-linecap="butt"/>
<text x="1393.10" y="1065.50" font-size="24.5" fill="#000" text-anchor="middle">6</text>
<line x1="1477.10" y1="1036.00" x2="1477.10" y2="1042.30" stroke="#000" stroke-width="3.6" stroke-linecap="butt"/>
<text x="1477.60" y="1065.50" font-size="24.5" fill="#000" text-anchor="middle">12</text>
<line x1="1561.70" y1="1036.00" x2="1561.70" y2="1042.30" stroke="#000" stroke-width="3.6" stroke-linecap="butt"/>
<text x="1562.20" y="1065.50" font-size="24.5" fill="#000" text-anchor="middle">24</text>
<line x1="1646.20" y1="1036.00" x2="1646.20" y2="1042.30" stroke="#000" stroke-width="3.6" stroke-linecap="butt"/>
<text x="1646.70" y="1065.50" font-size="24.5" fill="#000" text-anchor="middle">48</text>
<text x="1466.00" y="1096.00" font-size="27.7" fill="#000" text-anchor="middle">Sulfonation time (h)</text>
<text x="0" y="0" transform="translate(1203.80,869.50) rotate(-90)" font-size="27.9" fill="#000" text-anchor="middle">Sulfonation degree(%)</text>
</svg>
</body></html>
